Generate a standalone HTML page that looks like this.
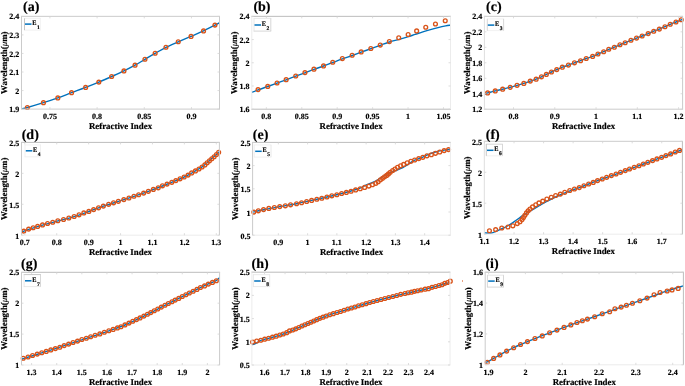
<!DOCTYPE html>
<html><head><meta charset="utf-8"><style>
html,body{margin:0;padding:0;background:#fff;width:685px;height:386px;overflow:hidden}
svg{display:block}
text{text-rendering:geometricPrecision}
text{font-family:"Liberation Serif",serif;font-weight:bold;fill:#000;stroke:#000;stroke-width:0.18px}
.tk{font-size:8px}
.lb{font-size:8.85px}
.pl{font-size:14px}
.lg{font-size:7px}
.ls{font-size:5.5px}
</style></head><body>
<svg width="685" height="386" viewBox="0 0 685 386" style="will-change:transform">
<rect width="685" height="386" fill="#fff"/>
<clipPath id="ca"><rect x="21.5" y="16.35" width="198.0" height="92.75"/></clipPath>
<path d="M21.45,108.80 C22.43,108.58 23.68,108.52 27.35,107.50 C31.02,106.48 38.37,104.30 43.45,102.70 C48.53,101.10 53.17,99.57 57.85,97.90 C62.53,96.23 66.92,94.45 71.55,92.70 C76.18,90.95 81.10,89.17 85.65,87.40 C90.20,85.63 94.52,83.92 98.85,82.10 C103.18,80.28 107.47,78.37 111.65,76.50 C115.83,74.63 120.05,72.78 123.95,70.90 C127.85,69.02 131.55,67.13 135.05,65.20 C138.55,63.27 141.60,61.28 144.95,59.30 C148.30,57.32 151.65,55.30 155.15,53.30 C158.65,51.30 162.10,49.22 165.95,47.30 C169.80,45.38 174.07,43.62 178.25,41.80 C182.43,39.98 186.83,38.22 191.05,36.40 C195.27,34.58 199.57,32.78 203.55,30.90 C207.53,29.02 212.20,26.52 214.95,25.10 C217.70,23.68 219.20,22.85 220.05,22.40" fill="none" stroke="#0072BD" stroke-width="1.4" stroke-linejoin="round" clip-path="url(#ca)"/>
<circle cx="27.35" cy="107.50" r="1.9" fill="none" stroke="#D95319" stroke-width="1.35"/>
<circle cx="43.45" cy="102.70" r="1.9" fill="none" stroke="#D95319" stroke-width="1.35"/>
<circle cx="57.85" cy="97.90" r="1.9" fill="none" stroke="#D95319" stroke-width="1.35"/>
<circle cx="71.55" cy="92.70" r="1.9" fill="none" stroke="#D95319" stroke-width="1.35"/>
<circle cx="85.65" cy="87.40" r="1.9" fill="none" stroke="#D95319" stroke-width="1.35"/>
<circle cx="98.85" cy="82.10" r="1.9" fill="none" stroke="#D95319" stroke-width="1.35"/>
<circle cx="111.65" cy="76.50" r="1.9" fill="none" stroke="#D95319" stroke-width="1.35"/>
<circle cx="123.95" cy="70.90" r="1.9" fill="none" stroke="#D95319" stroke-width="1.35"/>
<circle cx="135.05" cy="65.20" r="1.9" fill="none" stroke="#D95319" stroke-width="1.35"/>
<circle cx="144.95" cy="59.30" r="1.9" fill="none" stroke="#D95319" stroke-width="1.35"/>
<circle cx="155.15" cy="53.30" r="1.9" fill="none" stroke="#D95319" stroke-width="1.35"/>
<circle cx="165.95" cy="47.30" r="1.9" fill="none" stroke="#D95319" stroke-width="1.35"/>
<circle cx="178.25" cy="41.80" r="1.9" fill="none" stroke="#D95319" stroke-width="1.35"/>
<circle cx="191.05" cy="36.40" r="1.9" fill="none" stroke="#D95319" stroke-width="1.35"/>
<circle cx="203.55" cy="30.90" r="1.9" fill="none" stroke="#D95319" stroke-width="1.35"/>
<circle cx="214.95" cy="25.10" r="1.9" fill="none" stroke="#D95319" stroke-width="1.35"/>
<line x1="21.0" y1="16.35" x2="220.0" y2="16.35" stroke="#cbcbcb" stroke-width="1"/>
<line x1="21.0" y1="109.1" x2="220.0" y2="109.1" stroke="#cbcbcb" stroke-width="1"/>
<line x1="21.5" y1="16.35" x2="21.5" y2="109.1" stroke="#cbcbcb" stroke-width="1"/>
<line x1="219.5" y1="16.35" x2="219.5" y2="109.1" stroke="#cbcbcb" stroke-width="1"/>
<line x1="49.91" y1="109.1" x2="49.91" y2="107.1" stroke="#d4d4d4" stroke-width="0.8"/>
<line x1="49.91" y1="16.35" x2="49.91" y2="18.35" stroke="#d4d4d4" stroke-width="0.8"/>
<text x="49.91" y="119.00" class="tk" text-anchor="middle">0.75</text>
<line x1="97.09" y1="109.1" x2="97.09" y2="107.1" stroke="#d4d4d4" stroke-width="0.8"/>
<line x1="97.09" y1="16.35" x2="97.09" y2="18.35" stroke="#d4d4d4" stroke-width="0.8"/>
<text x="97.09" y="119.00" class="tk" text-anchor="middle">0.8</text>
<line x1="144.28" y1="109.1" x2="144.28" y2="107.1" stroke="#d4d4d4" stroke-width="0.8"/>
<line x1="144.28" y1="16.35" x2="144.28" y2="18.35" stroke="#d4d4d4" stroke-width="0.8"/>
<text x="144.28" y="119.00" class="tk" text-anchor="middle">0.85</text>
<line x1="191.47" y1="109.1" x2="191.47" y2="107.1" stroke="#d4d4d4" stroke-width="0.8"/>
<line x1="191.47" y1="16.35" x2="191.47" y2="18.35" stroke="#d4d4d4" stroke-width="0.8"/>
<text x="191.47" y="119.00" class="tk" text-anchor="middle">0.9</text>
<line x1="21.5" y1="109.10" x2="23.5" y2="109.10" stroke="#d4d4d4" stroke-width="0.8"/>
<line x1="219.5" y1="109.10" x2="217.5" y2="109.10" stroke="#d4d4d4" stroke-width="0.8"/>
<text x="19.30" y="112.20" class="tk" text-anchor="end">1.9</text>
<line x1="21.5" y1="90.55" x2="23.5" y2="90.55" stroke="#d4d4d4" stroke-width="0.8"/>
<line x1="219.5" y1="90.55" x2="217.5" y2="90.55" stroke="#d4d4d4" stroke-width="0.8"/>
<text x="19.30" y="93.65" class="tk" text-anchor="end">2</text>
<line x1="21.5" y1="72.00" x2="23.5" y2="72.00" stroke="#d4d4d4" stroke-width="0.8"/>
<line x1="219.5" y1="72.00" x2="217.5" y2="72.00" stroke="#d4d4d4" stroke-width="0.8"/>
<text x="19.30" y="75.10" class="tk" text-anchor="end">2.1</text>
<line x1="21.5" y1="53.45" x2="23.5" y2="53.45" stroke="#d4d4d4" stroke-width="0.8"/>
<line x1="219.5" y1="53.45" x2="217.5" y2="53.45" stroke="#d4d4d4" stroke-width="0.8"/>
<text x="19.30" y="56.55" class="tk" text-anchor="end">2.2</text>
<line x1="21.5" y1="34.90" x2="23.5" y2="34.90" stroke="#d4d4d4" stroke-width="0.8"/>
<line x1="219.5" y1="34.90" x2="217.5" y2="34.90" stroke="#d4d4d4" stroke-width="0.8"/>
<text x="19.30" y="38.00" class="tk" text-anchor="end">2.3</text>
<line x1="21.5" y1="16.35" x2="23.5" y2="16.35" stroke="#d4d4d4" stroke-width="0.8"/>
<line x1="219.5" y1="16.35" x2="217.5" y2="16.35" stroke="#d4d4d4" stroke-width="0.8"/>
<text x="19.30" y="19.45" class="tk" text-anchor="end">2.4</text>
<text x="120.50" y="129.00" class="lb" text-anchor="middle">Refractive Index</text>
<text transform="translate(7.10,62.72) rotate(-90)" class="lb" text-anchor="middle">Wavelength(<tspan font-style="italic" font-weight="normal" stroke-width="0.1">μ</tspan>m)</text>
<text x="23.00" y="11.30" class="pl">(a)</text>
<rect x="24.50" y="18.40" width="15.80" height="11.70" fill="#fff"/>
<line x1="24.10" y1="18.40" x2="40.70" y2="18.40" stroke="#eeeeee" stroke-width="0.8"/>
<line x1="24.10" y1="30.10" x2="40.70" y2="30.10" stroke="#eeeeee" stroke-width="0.8"/>
<line x1="24.50" y1="18.40" x2="24.50" y2="30.10" stroke="#b8b8b8" stroke-width="0.8"/>
<line x1="40.30" y1="18.40" x2="40.30" y2="30.10" stroke="#eeeeee" stroke-width="0.8"/>
<line x1="25.00" y1="24.10" x2="31.50" y2="24.10" stroke="#0072BD" stroke-width="1.5"/>
<text x="32.30" y="24.95" class="lg" textLength="4.2" lengthAdjust="spacingAndGlyphs">E</text>
<text x="37.00" y="28.80" class="ls">1</text>
<clipPath id="cb"><rect x="251.8" y="16.35" width="198.7" height="92.85"/></clipPath>
<path d="M251.95,92.40 C252.97,91.98 255.42,90.88 258.05,89.90 C260.68,88.92 264.58,87.63 267.75,86.50 C270.92,85.37 273.98,84.22 277.05,83.10 C280.12,81.98 283.03,80.95 286.15,79.80 C289.27,78.65 292.62,77.37 295.75,76.20 C298.88,75.03 301.92,73.93 304.95,72.80 C307.98,71.67 310.85,70.53 313.95,69.40 C317.05,68.27 320.42,67.15 323.55,66.00 C326.68,64.85 329.62,63.68 332.75,62.50 C335.88,61.32 339.12,60.07 342.35,58.90 C345.58,57.73 349.02,56.62 352.15,55.50 C355.28,54.38 358.03,53.33 361.15,52.20 C364.27,51.07 367.67,49.85 370.85,48.70 C374.03,47.55 377.17,46.42 380.25,45.30 C383.33,44.18 386.05,43.03 389.35,42.00 C392.65,40.97 397.00,39.95 400.05,39.10 C403.10,38.25 405.12,37.68 407.65,36.90 C410.18,36.12 412.72,35.23 415.25,34.40 C417.78,33.57 420.32,32.70 422.85,31.90 C425.38,31.10 427.92,30.32 430.45,29.60 C432.98,28.88 435.52,28.22 438.05,27.60 C440.58,26.98 443.57,26.32 445.65,25.90 C447.73,25.48 449.73,25.23 450.55,25.10" fill="none" stroke="#0072BD" stroke-width="1.4" stroke-linejoin="round" clip-path="url(#cb)"/>
<circle cx="258.05" cy="89.60" r="1.9" fill="none" stroke="#D95319" stroke-width="1.35"/>
<circle cx="267.75" cy="86.40" r="1.9" fill="none" stroke="#D95319" stroke-width="1.35"/>
<circle cx="277.05" cy="83.00" r="1.9" fill="none" stroke="#D95319" stroke-width="1.35"/>
<circle cx="286.15" cy="79.70" r="1.9" fill="none" stroke="#D95319" stroke-width="1.35"/>
<circle cx="295.75" cy="76.00" r="1.9" fill="none" stroke="#D95319" stroke-width="1.35"/>
<circle cx="304.95" cy="72.60" r="1.9" fill="none" stroke="#D95319" stroke-width="1.35"/>
<circle cx="313.95" cy="69.20" r="1.9" fill="none" stroke="#D95319" stroke-width="1.35"/>
<circle cx="323.55" cy="65.90" r="1.9" fill="none" stroke="#D95319" stroke-width="1.35"/>
<circle cx="332.75" cy="62.20" r="1.9" fill="none" stroke="#D95319" stroke-width="1.35"/>
<circle cx="342.35" cy="58.60" r="1.9" fill="none" stroke="#D95319" stroke-width="1.35"/>
<circle cx="352.15" cy="55.30" r="1.9" fill="none" stroke="#D95319" stroke-width="1.35"/>
<circle cx="361.15" cy="51.90" r="1.9" fill="none" stroke="#D95319" stroke-width="1.35"/>
<circle cx="370.85" cy="48.50" r="1.9" fill="none" stroke="#D95319" stroke-width="1.35"/>
<circle cx="380.25" cy="45.10" r="1.9" fill="none" stroke="#D95319" stroke-width="1.35"/>
<circle cx="389.35" cy="41.60" r="1.9" fill="none" stroke="#D95319" stroke-width="1.35"/>
<circle cx="398.75" cy="37.70" r="1.9" fill="none" stroke="#D95319" stroke-width="1.35"/>
<circle cx="408.15" cy="34.50" r="1.9" fill="none" stroke="#D95319" stroke-width="1.35"/>
<circle cx="416.65" cy="30.90" r="1.9" fill="none" stroke="#D95319" stroke-width="1.35"/>
<circle cx="425.75" cy="27.30" r="1.9" fill="none" stroke="#D95319" stroke-width="1.35"/>
<circle cx="435.45" cy="24.00" r="1.9" fill="none" stroke="#D95319" stroke-width="1.35"/>
<circle cx="445.25" cy="20.80" r="1.9" fill="none" stroke="#D95319" stroke-width="1.35"/>
<line x1="251.3" y1="16.35" x2="451.0" y2="16.35" stroke="#bcbcbc" stroke-width="1"/>
<line x1="251.3" y1="109.2" x2="451.0" y2="109.2" stroke="#bcbcbc" stroke-width="1"/>
<line x1="251.8" y1="16.35" x2="251.8" y2="109.2" stroke="#ececec" stroke-width="1"/>
<line x1="450.5" y1="16.35" x2="450.5" y2="109.2" stroke="#ececec" stroke-width="1"/>
<line x1="266.33" y1="109.2" x2="266.33" y2="107.2" stroke="#d4d4d4" stroke-width="0.8"/>
<line x1="266.33" y1="16.35" x2="266.33" y2="18.35" stroke="#d4d4d4" stroke-width="0.8"/>
<text x="266.33" y="119.10" class="tk" text-anchor="middle">0.8</text>
<line x1="301.76" y1="109.2" x2="301.76" y2="107.2" stroke="#d4d4d4" stroke-width="0.8"/>
<line x1="301.76" y1="16.35" x2="301.76" y2="18.35" stroke="#d4d4d4" stroke-width="0.8"/>
<text x="301.76" y="119.10" class="tk" text-anchor="middle">0.85</text>
<line x1="337.19" y1="109.2" x2="337.19" y2="107.2" stroke="#d4d4d4" stroke-width="0.8"/>
<line x1="337.19" y1="16.35" x2="337.19" y2="18.35" stroke="#d4d4d4" stroke-width="0.8"/>
<text x="337.19" y="119.10" class="tk" text-anchor="middle">0.9</text>
<line x1="372.62" y1="109.2" x2="372.62" y2="107.2" stroke="#d4d4d4" stroke-width="0.8"/>
<line x1="372.62" y1="16.35" x2="372.62" y2="18.35" stroke="#d4d4d4" stroke-width="0.8"/>
<text x="372.62" y="119.10" class="tk" text-anchor="middle">0.95</text>
<line x1="408.05" y1="109.2" x2="408.05" y2="107.2" stroke="#d4d4d4" stroke-width="0.8"/>
<line x1="408.05" y1="16.35" x2="408.05" y2="18.35" stroke="#d4d4d4" stroke-width="0.8"/>
<text x="408.05" y="119.10" class="tk" text-anchor="middle">1</text>
<line x1="443.48" y1="109.2" x2="443.48" y2="107.2" stroke="#d4d4d4" stroke-width="0.8"/>
<line x1="443.48" y1="16.35" x2="443.48" y2="18.35" stroke="#d4d4d4" stroke-width="0.8"/>
<text x="443.48" y="119.10" class="tk" text-anchor="middle">1.05</text>
<line x1="251.8" y1="109.20" x2="253.8" y2="109.20" stroke="#d4d4d4" stroke-width="0.8"/>
<line x1="450.5" y1="109.20" x2="448.5" y2="109.20" stroke="#d4d4d4" stroke-width="0.8"/>
<text x="249.60" y="112.30" class="tk" text-anchor="end">1.6</text>
<line x1="251.8" y1="85.99" x2="253.8" y2="85.99" stroke="#d4d4d4" stroke-width="0.8"/>
<line x1="450.5" y1="85.99" x2="448.5" y2="85.99" stroke="#d4d4d4" stroke-width="0.8"/>
<text x="249.60" y="89.09" class="tk" text-anchor="end">1.8</text>
<line x1="251.8" y1="62.78" x2="253.8" y2="62.78" stroke="#d4d4d4" stroke-width="0.8"/>
<line x1="450.5" y1="62.78" x2="448.5" y2="62.78" stroke="#d4d4d4" stroke-width="0.8"/>
<text x="249.60" y="65.88" class="tk" text-anchor="end">2</text>
<line x1="251.8" y1="39.56" x2="253.8" y2="39.56" stroke="#d4d4d4" stroke-width="0.8"/>
<line x1="450.5" y1="39.56" x2="448.5" y2="39.56" stroke="#d4d4d4" stroke-width="0.8"/>
<text x="249.60" y="42.66" class="tk" text-anchor="end">2.2</text>
<line x1="251.8" y1="16.35" x2="253.8" y2="16.35" stroke="#d4d4d4" stroke-width="0.8"/>
<line x1="450.5" y1="16.35" x2="448.5" y2="16.35" stroke="#d4d4d4" stroke-width="0.8"/>
<text x="249.60" y="19.45" class="tk" text-anchor="end">2.4</text>
<text x="351.15" y="129.10" class="lb" text-anchor="middle">Refractive Index</text>
<text transform="translate(237.40,62.78) rotate(-90)" class="lb" text-anchor="middle">Wavelength(<tspan font-style="italic" font-weight="normal" stroke-width="0.1">μ</tspan>m)</text>
<text x="253.40" y="11.30" class="pl">(b)</text>
<rect x="254.00" y="18.40" width="16.80" height="12.70" fill="#fff"/>
<line x1="253.60" y1="18.40" x2="271.20" y2="18.40" stroke="#e2e2e2" stroke-width="0.8"/>
<line x1="253.60" y1="31.10" x2="271.20" y2="31.10" stroke="#cdcdcd" stroke-width="0.8"/>
<line x1="254.00" y1="18.40" x2="254.00" y2="31.10" stroke="#e2e2e2" stroke-width="0.8"/>
<line x1="270.80" y1="18.40" x2="270.80" y2="31.10" stroke="#cdcdcd" stroke-width="0.8"/>
<line x1="254.50" y1="25.00" x2="261.00" y2="25.00" stroke="#0072BD" stroke-width="1.5"/>
<text x="261.80" y="25.85" class="lg" textLength="4.2" lengthAdjust="spacingAndGlyphs">E</text>
<text x="266.50" y="29.70" class="ls">2</text>
<clipPath id="cc"><rect x="484.4" y="16.35" width="198.20000000000005" height="92.85"/></clipPath>
<path d="M484.45,94.30 C484.98,94.07 485.85,93.47 487.65,92.90 C489.45,92.33 492.75,91.52 495.25,90.90 C497.75,90.28 500.17,89.80 502.65,89.20 C505.13,88.60 507.75,87.95 510.15,87.30 C512.55,86.65 514.77,85.95 517.05,85.30 C519.33,84.65 521.65,84.10 523.85,83.40 C526.05,82.70 528.20,81.80 530.25,81.10 C532.30,80.40 534.28,79.92 536.15,79.20 C538.02,78.48 539.75,77.60 541.45,76.80 C543.15,76.00 544.68,75.20 546.35,74.40 C548.02,73.60 549.72,72.80 551.45,72.00 C553.18,71.20 554.93,70.40 556.75,69.60 C558.57,68.80 560.40,67.95 562.35,67.20 C564.30,66.45 566.43,65.83 568.45,65.10 C570.47,64.37 572.43,63.53 574.45,62.80 C576.47,62.07 578.58,61.42 580.55,60.70 C582.52,59.98 584.23,59.22 586.25,58.50 C588.27,57.78 590.70,57.15 592.65,56.40 C594.60,55.65 596.12,54.78 597.95,54.00 C599.78,53.22 601.85,52.48 603.65,51.70 C605.45,50.92 606.97,50.05 608.75,49.30 C610.53,48.55 612.48,47.95 614.35,47.20 C616.22,46.45 618.15,45.55 619.95,44.80 C621.75,44.05 623.32,43.45 625.15,42.70 C626.98,41.95 629.05,41.07 630.95,40.30 C632.85,39.53 634.68,38.82 636.55,38.10 C638.42,37.38 640.22,36.75 642.15,36.00 C644.08,35.25 646.22,34.40 648.15,33.60 C650.08,32.80 651.88,31.95 653.75,31.20 C655.62,30.45 657.48,29.85 659.35,29.10 C661.22,28.35 663.13,27.50 664.95,26.70 C666.77,25.90 668.42,25.08 670.25,24.30 C672.08,23.52 674.12,22.75 675.95,22.00 C677.78,21.25 680.13,20.25 681.25,19.80 C682.37,19.35 682.42,19.38 682.65,19.30" fill="none" stroke="#0072BD" stroke-width="1.4" stroke-linejoin="round" clip-path="url(#cc)"/>
<circle cx="487.65" cy="92.90" r="1.9" fill="none" stroke="#D95319" stroke-width="1.35"/>
<circle cx="495.25" cy="90.90" r="1.9" fill="none" stroke="#D95319" stroke-width="1.35"/>
<circle cx="502.65" cy="89.20" r="1.9" fill="none" stroke="#D95319" stroke-width="1.35"/>
<circle cx="510.15" cy="87.30" r="1.9" fill="none" stroke="#D95319" stroke-width="1.35"/>
<circle cx="517.05" cy="85.30" r="1.9" fill="none" stroke="#D95319" stroke-width="1.35"/>
<circle cx="523.85" cy="83.40" r="1.9" fill="none" stroke="#D95319" stroke-width="1.35"/>
<circle cx="530.25" cy="81.10" r="1.9" fill="none" stroke="#D95319" stroke-width="1.35"/>
<circle cx="536.15" cy="79.20" r="1.9" fill="none" stroke="#D95319" stroke-width="1.35"/>
<circle cx="541.45" cy="76.80" r="1.9" fill="none" stroke="#D95319" stroke-width="1.35"/>
<circle cx="546.35" cy="74.40" r="1.9" fill="none" stroke="#D95319" stroke-width="1.35"/>
<circle cx="551.45" cy="72.00" r="1.9" fill="none" stroke="#D95319" stroke-width="1.35"/>
<circle cx="556.75" cy="69.60" r="1.9" fill="none" stroke="#D95319" stroke-width="1.35"/>
<circle cx="562.35" cy="67.20" r="1.9" fill="none" stroke="#D95319" stroke-width="1.35"/>
<circle cx="568.45" cy="65.10" r="1.9" fill="none" stroke="#D95319" stroke-width="1.35"/>
<circle cx="574.45" cy="62.80" r="1.9" fill="none" stroke="#D95319" stroke-width="1.35"/>
<circle cx="580.55" cy="60.70" r="1.9" fill="none" stroke="#D95319" stroke-width="1.35"/>
<circle cx="586.25" cy="58.50" r="1.9" fill="none" stroke="#D95319" stroke-width="1.35"/>
<circle cx="592.65" cy="56.40" r="1.9" fill="none" stroke="#D95319" stroke-width="1.35"/>
<circle cx="597.95" cy="54.00" r="1.9" fill="none" stroke="#D95319" stroke-width="1.35"/>
<circle cx="603.65" cy="51.70" r="1.9" fill="none" stroke="#D95319" stroke-width="1.35"/>
<circle cx="608.75" cy="49.30" r="1.9" fill="none" stroke="#D95319" stroke-width="1.35"/>
<circle cx="614.35" cy="47.20" r="1.9" fill="none" stroke="#D95319" stroke-width="1.35"/>
<circle cx="619.95" cy="44.80" r="1.9" fill="none" stroke="#D95319" stroke-width="1.35"/>
<circle cx="625.15" cy="42.70" r="1.9" fill="none" stroke="#D95319" stroke-width="1.35"/>
<circle cx="630.95" cy="40.30" r="1.9" fill="none" stroke="#D95319" stroke-width="1.35"/>
<circle cx="636.55" cy="38.10" r="1.9" fill="none" stroke="#D95319" stroke-width="1.35"/>
<circle cx="642.15" cy="36.00" r="1.9" fill="none" stroke="#D95319" stroke-width="1.35"/>
<circle cx="648.15" cy="33.60" r="1.9" fill="none" stroke="#D95319" stroke-width="1.35"/>
<circle cx="653.75" cy="31.20" r="1.9" fill="none" stroke="#D95319" stroke-width="1.35"/>
<circle cx="659.35" cy="29.10" r="1.9" fill="none" stroke="#D95319" stroke-width="1.35"/>
<circle cx="664.95" cy="26.70" r="1.9" fill="none" stroke="#D95319" stroke-width="1.35"/>
<circle cx="670.25" cy="24.30" r="1.9" fill="none" stroke="#D95319" stroke-width="1.35"/>
<circle cx="675.95" cy="22.00" r="1.9" fill="none" stroke="#D95319" stroke-width="1.35"/>
<circle cx="681.25" cy="19.80" r="1.9" fill="none" stroke="#D95319" stroke-width="1.35"/>
<line x1="483.9" y1="16.35" x2="683.1" y2="16.35" stroke="#cbcbcb" stroke-width="1"/>
<line x1="483.9" y1="109.2" x2="683.1" y2="109.2" stroke="#cbcbcb" stroke-width="1"/>
<line x1="484.4" y1="16.35" x2="484.4" y2="109.2" stroke="#dedede" stroke-width="1"/>
<line x1="682.6" y1="16.35" x2="682.6" y2="109.2" stroke="#cbcbcb" stroke-width="1"/>
<line x1="513.50" y1="109.2" x2="513.50" y2="107.2" stroke="#d4d4d4" stroke-width="0.8"/>
<line x1="513.50" y1="16.35" x2="513.50" y2="18.35" stroke="#d4d4d4" stroke-width="0.8"/>
<text x="513.50" y="119.10" class="tk" text-anchor="middle">0.8</text>
<line x1="554.77" y1="109.2" x2="554.77" y2="107.2" stroke="#d4d4d4" stroke-width="0.8"/>
<line x1="554.77" y1="16.35" x2="554.77" y2="18.35" stroke="#d4d4d4" stroke-width="0.8"/>
<text x="554.77" y="119.10" class="tk" text-anchor="middle">0.9</text>
<line x1="596.05" y1="109.2" x2="596.05" y2="107.2" stroke="#d4d4d4" stroke-width="0.8"/>
<line x1="596.05" y1="16.35" x2="596.05" y2="18.35" stroke="#d4d4d4" stroke-width="0.8"/>
<text x="596.05" y="119.10" class="tk" text-anchor="middle">1</text>
<line x1="637.32" y1="109.2" x2="637.32" y2="107.2" stroke="#d4d4d4" stroke-width="0.8"/>
<line x1="637.32" y1="16.35" x2="637.32" y2="18.35" stroke="#d4d4d4" stroke-width="0.8"/>
<text x="637.32" y="119.10" class="tk" text-anchor="middle">1.1</text>
<line x1="678.60" y1="109.2" x2="678.60" y2="107.2" stroke="#d4d4d4" stroke-width="0.8"/>
<line x1="678.60" y1="16.35" x2="678.60" y2="18.35" stroke="#d4d4d4" stroke-width="0.8"/>
<text x="678.60" y="119.10" class="tk" text-anchor="middle">1.2</text>
<line x1="484.4" y1="109.20" x2="486.4" y2="109.20" stroke="#d4d4d4" stroke-width="0.8"/>
<line x1="682.6" y1="109.20" x2="680.6" y2="109.20" stroke="#d4d4d4" stroke-width="0.8"/>
<text x="482.20" y="112.30" class="tk" text-anchor="end">1.2</text>
<line x1="484.4" y1="93.73" x2="486.4" y2="93.73" stroke="#d4d4d4" stroke-width="0.8"/>
<line x1="682.6" y1="93.73" x2="680.6" y2="93.73" stroke="#d4d4d4" stroke-width="0.8"/>
<text x="482.20" y="96.83" class="tk" text-anchor="end">1.4</text>
<line x1="484.4" y1="78.25" x2="486.4" y2="78.25" stroke="#d4d4d4" stroke-width="0.8"/>
<line x1="682.6" y1="78.25" x2="680.6" y2="78.25" stroke="#d4d4d4" stroke-width="0.8"/>
<text x="482.20" y="81.35" class="tk" text-anchor="end">1.6</text>
<line x1="484.4" y1="62.77" x2="486.4" y2="62.77" stroke="#d4d4d4" stroke-width="0.8"/>
<line x1="682.6" y1="62.77" x2="680.6" y2="62.77" stroke="#d4d4d4" stroke-width="0.8"/>
<text x="482.20" y="65.88" class="tk" text-anchor="end">1.8</text>
<line x1="484.4" y1="47.30" x2="486.4" y2="47.30" stroke="#d4d4d4" stroke-width="0.8"/>
<line x1="682.6" y1="47.30" x2="680.6" y2="47.30" stroke="#d4d4d4" stroke-width="0.8"/>
<text x="482.20" y="50.40" class="tk" text-anchor="end">2</text>
<line x1="484.4" y1="31.82" x2="486.4" y2="31.82" stroke="#d4d4d4" stroke-width="0.8"/>
<line x1="682.6" y1="31.82" x2="680.6" y2="31.82" stroke="#d4d4d4" stroke-width="0.8"/>
<text x="482.20" y="34.92" class="tk" text-anchor="end">2.2</text>
<line x1="484.4" y1="16.35" x2="486.4" y2="16.35" stroke="#d4d4d4" stroke-width="0.8"/>
<line x1="682.6" y1="16.35" x2="680.6" y2="16.35" stroke="#d4d4d4" stroke-width="0.8"/>
<text x="482.20" y="19.45" class="tk" text-anchor="end">2.4</text>
<text x="583.50" y="129.10" class="lb" text-anchor="middle">Refractive Index</text>
<text transform="translate(470.00,62.78) rotate(-90)" class="lb" text-anchor="middle">Wavelength(<tspan font-style="italic" font-weight="normal" stroke-width="0.1">μ</tspan>m)</text>
<text x="486.10" y="11.30" class="pl">(c)</text>
<rect x="487.30" y="18.90" width="16.30" height="11.70" fill="#fff"/>
<line x1="486.90" y1="18.90" x2="504.00" y2="18.90" stroke="#eeeeee" stroke-width="0.8"/>
<line x1="486.90" y1="30.60" x2="504.00" y2="30.60" stroke="#eeeeee" stroke-width="0.8"/>
<line x1="487.30" y1="18.90" x2="487.30" y2="30.60" stroke="#cdcdcd" stroke-width="0.8"/>
<line x1="503.60" y1="18.90" x2="503.60" y2="30.60" stroke="#cdcdcd" stroke-width="0.8"/>
<line x1="487.80" y1="25.10" x2="494.30" y2="25.10" stroke="#0072BD" stroke-width="1.5"/>
<text x="495.10" y="25.95" class="lg" textLength="4.2" lengthAdjust="spacingAndGlyphs">E</text>
<text x="499.80" y="29.80" class="ls">3</text>
<clipPath id="cd"><rect x="21.5" y="142.4" width="197.9" height="92.79999999999998"/></clipPath>
<path d="M21.55,232.10 C22.73,231.63 25.15,230.47 28.65,229.30 C32.15,228.13 37.68,226.50 42.55,225.10 C47.42,223.70 52.58,222.32 57.85,220.90 C63.12,219.48 68.98,218.17 74.15,216.60 C79.32,215.03 83.98,213.23 88.85,211.50 C93.72,209.77 98.43,207.88 103.35,206.20 C108.27,204.52 113.25,203.05 118.35,201.40 C123.45,199.75 128.95,197.98 133.95,196.30 C138.95,194.62 143.60,193.02 148.35,191.30 C153.10,189.58 157.87,187.78 162.45,186.00 C167.03,184.22 171.58,182.42 175.85,180.60 C180.12,178.78 184.78,176.73 188.05,175.10 C191.32,173.47 193.12,172.18 195.45,170.80 C197.78,169.42 200.10,168.15 202.05,166.80 C204.00,165.45 205.53,164.07 207.15,162.70 C208.77,161.33 210.20,159.98 211.75,158.60 C213.30,157.22 215.10,155.63 216.45,154.40 C217.80,153.17 219.28,151.73 219.85,151.20" fill="none" stroke="#0072BD" stroke-width="1.4" stroke-linejoin="round" clip-path="url(#cd)"/>
<circle cx="23.85" cy="231.10" r="1.9" fill="none" stroke="#D95319" stroke-width="1.35"/>
<circle cx="28.65" cy="229.10" r="1.9" fill="none" stroke="#D95319" stroke-width="1.35"/>
<circle cx="33.15" cy="227.70" r="1.9" fill="none" stroke="#D95319" stroke-width="1.35"/>
<circle cx="37.65" cy="226.40" r="1.9" fill="none" stroke="#D95319" stroke-width="1.35"/>
<circle cx="42.55" cy="224.90" r="1.9" fill="none" stroke="#D95319" stroke-width="1.35"/>
<circle cx="47.55" cy="223.50" r="1.9" fill="none" stroke="#D95319" stroke-width="1.35"/>
<circle cx="52.75" cy="222.20" r="1.9" fill="none" stroke="#D95319" stroke-width="1.35"/>
<circle cx="57.85" cy="220.70" r="1.9" fill="none" stroke="#D95319" stroke-width="1.35"/>
<circle cx="63.55" cy="219.50" r="1.9" fill="none" stroke="#D95319" stroke-width="1.35"/>
<circle cx="68.85" cy="218.00" r="1.9" fill="none" stroke="#D95319" stroke-width="1.35"/>
<circle cx="74.15" cy="216.50" r="1.9" fill="none" stroke="#D95319" stroke-width="1.35"/>
<circle cx="79.05" cy="214.80" r="1.9" fill="none" stroke="#D95319" stroke-width="1.35"/>
<circle cx="83.85" cy="212.90" r="1.9" fill="none" stroke="#D95319" stroke-width="1.35"/>
<circle cx="88.85" cy="211.40" r="1.9" fill="none" stroke="#D95319" stroke-width="1.35"/>
<circle cx="93.65" cy="209.60" r="1.9" fill="none" stroke="#D95319" stroke-width="1.35"/>
<circle cx="98.55" cy="207.80" r="1.9" fill="none" stroke="#D95319" stroke-width="1.35"/>
<circle cx="103.35" cy="206.10" r="1.9" fill="none" stroke="#D95319" stroke-width="1.35"/>
<circle cx="108.65" cy="204.30" r="1.9" fill="none" stroke="#D95319" stroke-width="1.35"/>
<circle cx="113.55" cy="202.80" r="1.9" fill="none" stroke="#D95319" stroke-width="1.35"/>
<circle cx="118.35" cy="201.30" r="1.9" fill="none" stroke="#D95319" stroke-width="1.35"/>
<circle cx="123.85" cy="199.60" r="1.9" fill="none" stroke="#D95319" stroke-width="1.35"/>
<circle cx="128.95" cy="198.00" r="1.9" fill="none" stroke="#D95319" stroke-width="1.35"/>
<circle cx="133.95" cy="196.20" r="1.9" fill="none" stroke="#D95319" stroke-width="1.35"/>
<circle cx="138.65" cy="194.70" r="1.9" fill="none" stroke="#D95319" stroke-width="1.35"/>
<circle cx="143.65" cy="193.10" r="1.9" fill="none" stroke="#D95319" stroke-width="1.35"/>
<circle cx="148.35" cy="191.30" r="1.9" fill="none" stroke="#D95319" stroke-width="1.35"/>
<circle cx="153.35" cy="189.40" r="1.9" fill="none" stroke="#D95319" stroke-width="1.35"/>
<circle cx="158.25" cy="187.80" r="1.9" fill="none" stroke="#D95319" stroke-width="1.35"/>
<circle cx="162.45" cy="185.80" r="1.9" fill="none" stroke="#D95319" stroke-width="1.35"/>
<circle cx="167.05" cy="184.10" r="1.9" fill="none" stroke="#D95319" stroke-width="1.35"/>
<circle cx="171.85" cy="182.30" r="1.9" fill="none" stroke="#D95319" stroke-width="1.35"/>
<circle cx="175.85" cy="180.60" r="1.9" fill="none" stroke="#D95319" stroke-width="1.35"/>
<circle cx="180.05" cy="178.80" r="1.9" fill="none" stroke="#D95319" stroke-width="1.35"/>
<circle cx="184.15" cy="177.00" r="1.9" fill="none" stroke="#D95319" stroke-width="1.35"/>
<circle cx="188.05" cy="175.10" r="1.9" fill="none" stroke="#D95319" stroke-width="1.35"/>
<circle cx="191.65" cy="172.90" r="1.9" fill="none" stroke="#D95319" stroke-width="1.35"/>
<circle cx="195.45" cy="170.90" r="1.9" fill="none" stroke="#D95319" stroke-width="1.35"/>
<circle cx="198.95" cy="169.00" r="1.9" fill="none" stroke="#D95319" stroke-width="1.35"/>
<circle cx="202.05" cy="167.00" r="1.9" fill="none" stroke="#D95319" stroke-width="1.35"/>
<circle cx="204.85" cy="164.90" r="1.9" fill="none" stroke="#D95319" stroke-width="1.35"/>
<circle cx="207.15" cy="162.80" r="1.9" fill="none" stroke="#D95319" stroke-width="1.35"/>
<circle cx="209.45" cy="160.80" r="1.9" fill="none" stroke="#D95319" stroke-width="1.35"/>
<circle cx="211.75" cy="158.70" r="1.9" fill="none" stroke="#D95319" stroke-width="1.35"/>
<circle cx="214.15" cy="156.70" r="1.9" fill="none" stroke="#D95319" stroke-width="1.35"/>
<circle cx="216.45" cy="154.50" r="1.9" fill="none" stroke="#D95319" stroke-width="1.35"/>
<circle cx="218.65" cy="152.30" r="1.9" fill="none" stroke="#D95319" stroke-width="1.35"/>
<line x1="21.0" y1="142.4" x2="219.9" y2="142.4" stroke="#bcbcbc" stroke-width="1"/>
<line x1="21.0" y1="235.2" x2="219.9" y2="235.2" stroke="#ececec" stroke-width="1"/>
<line x1="21.5" y1="142.4" x2="21.5" y2="235.2" stroke="#cbcbcb" stroke-width="1"/>
<line x1="219.4" y1="142.4" x2="219.4" y2="235.2" stroke="#cbcbcb" stroke-width="1"/>
<line x1="24.79" y1="235.2" x2="24.79" y2="233.2" stroke="#d4d4d4" stroke-width="0.8"/>
<line x1="24.79" y1="142.4" x2="24.79" y2="144.4" stroke="#d4d4d4" stroke-width="0.8"/>
<text x="24.79" y="245.10" class="tk" text-anchor="middle">0.7</text>
<line x1="56.71" y1="235.2" x2="56.71" y2="233.2" stroke="#d4d4d4" stroke-width="0.8"/>
<line x1="56.71" y1="142.4" x2="56.71" y2="144.4" stroke="#d4d4d4" stroke-width="0.8"/>
<text x="56.71" y="245.10" class="tk" text-anchor="middle">0.8</text>
<line x1="88.63" y1="235.2" x2="88.63" y2="233.2" stroke="#d4d4d4" stroke-width="0.8"/>
<line x1="88.63" y1="142.4" x2="88.63" y2="144.4" stroke="#d4d4d4" stroke-width="0.8"/>
<text x="88.63" y="245.10" class="tk" text-anchor="middle">0.9</text>
<line x1="120.55" y1="235.2" x2="120.55" y2="233.2" stroke="#d4d4d4" stroke-width="0.8"/>
<line x1="120.55" y1="142.4" x2="120.55" y2="144.4" stroke="#d4d4d4" stroke-width="0.8"/>
<text x="120.55" y="245.10" class="tk" text-anchor="middle">1</text>
<line x1="152.47" y1="235.2" x2="152.47" y2="233.2" stroke="#d4d4d4" stroke-width="0.8"/>
<line x1="152.47" y1="142.4" x2="152.47" y2="144.4" stroke="#d4d4d4" stroke-width="0.8"/>
<text x="152.47" y="245.10" class="tk" text-anchor="middle">1.1</text>
<line x1="184.38" y1="235.2" x2="184.38" y2="233.2" stroke="#d4d4d4" stroke-width="0.8"/>
<line x1="184.38" y1="142.4" x2="184.38" y2="144.4" stroke="#d4d4d4" stroke-width="0.8"/>
<text x="184.38" y="245.10" class="tk" text-anchor="middle">1.2</text>
<line x1="216.30" y1="235.2" x2="216.30" y2="233.2" stroke="#d4d4d4" stroke-width="0.8"/>
<line x1="216.30" y1="142.4" x2="216.30" y2="144.4" stroke="#d4d4d4" stroke-width="0.8"/>
<text x="216.30" y="245.10" class="tk" text-anchor="middle">1.3</text>
<line x1="21.5" y1="235.20" x2="23.5" y2="235.20" stroke="#d4d4d4" stroke-width="0.8"/>
<line x1="219.4" y1="235.20" x2="217.4" y2="235.20" stroke="#d4d4d4" stroke-width="0.8"/>
<text x="19.30" y="238.70" class="tk" text-anchor="end">1</text>
<line x1="21.5" y1="204.27" x2="23.5" y2="204.27" stroke="#d4d4d4" stroke-width="0.8"/>
<line x1="219.4" y1="204.27" x2="217.4" y2="204.27" stroke="#d4d4d4" stroke-width="0.8"/>
<text x="19.30" y="207.77" class="tk" text-anchor="end">1.5</text>
<line x1="21.5" y1="173.33" x2="23.5" y2="173.33" stroke="#d4d4d4" stroke-width="0.8"/>
<line x1="219.4" y1="173.33" x2="217.4" y2="173.33" stroke="#d4d4d4" stroke-width="0.8"/>
<text x="19.30" y="176.83" class="tk" text-anchor="end">2</text>
<line x1="21.5" y1="142.40" x2="23.5" y2="142.40" stroke="#d4d4d4" stroke-width="0.8"/>
<line x1="219.4" y1="142.40" x2="217.4" y2="142.40" stroke="#d4d4d4" stroke-width="0.8"/>
<text x="19.30" y="145.90" class="tk" text-anchor="end">2.5</text>
<text x="120.45" y="255.10" class="lb" text-anchor="middle">Refractive Index</text>
<text transform="translate(7.10,188.80) rotate(-90)" class="lb" text-anchor="middle">Wavelength(<tspan font-style="italic" font-weight="normal" stroke-width="0.1">μ</tspan>m)</text>
<text x="21.70" y="139.20" class="pl">(d)</text>
<rect x="25.00" y="144.90" width="15.50" height="11.90" fill="#fff"/>
<line x1="24.60" y1="144.90" x2="40.90" y2="144.90" stroke="#eeeeee" stroke-width="0.8"/>
<line x1="24.60" y1="156.80" x2="40.90" y2="156.80" stroke="#eeeeee" stroke-width="0.8"/>
<line x1="25.00" y1="144.90" x2="25.00" y2="156.80" stroke="#eeeeee" stroke-width="0.8"/>
<line x1="40.50" y1="144.90" x2="40.50" y2="156.80" stroke="#eeeeee" stroke-width="0.8"/>
<line x1="25.80" y1="150.80" x2="32.30" y2="150.80" stroke="#0072BD" stroke-width="1.5"/>
<text x="33.10" y="151.65" class="lg" textLength="4.2" lengthAdjust="spacingAndGlyphs">E</text>
<text x="37.80" y="155.50" class="ls">4</text>
<clipPath id="ce"><rect x="252.6" y="142.4" width="197.79999999999998" height="92.79999999999998"/></clipPath>
<path d="M252.35,212.30 C254.22,211.87 258.98,210.65 263.55,209.70 C268.12,208.75 274.25,207.60 279.75,206.60 C285.25,205.60 291.23,204.73 296.55,203.70 C301.87,202.67 306.58,201.52 311.65,200.40 C316.72,199.28 321.95,198.15 326.95,197.00 C331.95,195.85 337.63,194.50 341.65,193.50 C345.67,192.50 348.72,191.67 351.05,191.00 C353.38,190.33 353.85,190.12 355.65,189.50 C357.45,188.88 360.13,188.03 361.85,187.30 C363.57,186.57 364.67,185.72 365.95,185.10 C367.23,184.48 368.33,184.10 369.55,183.60 C370.77,183.10 372.03,182.65 373.25,182.10 C374.47,181.55 375.63,180.98 376.85,180.30 C378.07,179.62 379.27,178.80 380.55,178.00 C381.83,177.20 383.22,176.28 384.55,175.50 C385.88,174.72 387.12,173.97 388.55,173.30 C389.98,172.63 391.72,172.05 393.15,171.50 C394.58,170.95 395.53,170.67 397.15,170.00 C398.77,169.33 401.30,168.25 402.85,167.50 C404.40,166.75 405.17,166.32 406.45,165.50 C407.73,164.68 409.18,163.48 410.55,162.60 C411.92,161.72 413.28,160.87 414.65,160.20 C416.02,159.53 417.38,159.12 418.75,158.60 C420.12,158.08 421.48,157.67 422.85,157.10 C424.22,156.53 425.53,155.82 426.95,155.20 C428.37,154.58 429.93,153.93 431.35,153.40 C432.77,152.87 434.05,152.42 435.45,152.00 C436.85,151.58 438.30,151.22 439.75,150.90 C441.20,150.58 442.68,150.33 444.15,150.10 C445.62,149.87 447.50,149.65 448.55,149.50 C449.60,149.35 450.13,149.25 450.45,149.20" fill="none" stroke="#0072BD" stroke-width="1.4" stroke-linejoin="round" clip-path="url(#ce)"/>
<circle cx="253.85" cy="212.10" r="1.9" fill="none" stroke="#D95319" stroke-width="1.35"/>
<circle cx="258.35" cy="210.80" r="1.9" fill="none" stroke="#D95319" stroke-width="1.35"/>
<circle cx="263.55" cy="209.60" r="1.9" fill="none" stroke="#D95319" stroke-width="1.35"/>
<circle cx="268.85" cy="208.40" r="1.9" fill="none" stroke="#D95319" stroke-width="1.35"/>
<circle cx="274.35" cy="207.50" r="1.9" fill="none" stroke="#D95319" stroke-width="1.35"/>
<circle cx="279.75" cy="206.60" r="1.9" fill="none" stroke="#D95319" stroke-width="1.35"/>
<circle cx="285.35" cy="205.80" r="1.9" fill="none" stroke="#D95319" stroke-width="1.35"/>
<circle cx="290.55" cy="204.80" r="1.9" fill="none" stroke="#D95319" stroke-width="1.35"/>
<circle cx="296.55" cy="203.70" r="1.9" fill="none" stroke="#D95319" stroke-width="1.35"/>
<circle cx="301.55" cy="202.70" r="1.9" fill="none" stroke="#D95319" stroke-width="1.35"/>
<circle cx="306.65" cy="201.50" r="1.9" fill="none" stroke="#D95319" stroke-width="1.35"/>
<circle cx="311.65" cy="200.40" r="1.9" fill="none" stroke="#D95319" stroke-width="1.35"/>
<circle cx="316.85" cy="199.20" r="1.9" fill="none" stroke="#D95319" stroke-width="1.35"/>
<circle cx="321.85" cy="198.20" r="1.9" fill="none" stroke="#D95319" stroke-width="1.35"/>
<circle cx="326.95" cy="197.00" r="1.9" fill="none" stroke="#D95319" stroke-width="1.35"/>
<circle cx="331.85" cy="195.80" r="1.9" fill="none" stroke="#D95319" stroke-width="1.35"/>
<circle cx="336.85" cy="194.70" r="1.9" fill="none" stroke="#D95319" stroke-width="1.35"/>
<circle cx="341.65" cy="193.50" r="1.9" fill="none" stroke="#D95319" stroke-width="1.35"/>
<circle cx="346.35" cy="192.40" r="1.9" fill="none" stroke="#D95319" stroke-width="1.35"/>
<circle cx="351.05" cy="191.20" r="1.9" fill="none" stroke="#D95319" stroke-width="1.35"/>
<circle cx="355.65" cy="189.90" r="1.9" fill="none" stroke="#D95319" stroke-width="1.35"/>
<circle cx="360.25" cy="188.70" r="1.9" fill="none" stroke="#D95319" stroke-width="1.35"/>
<circle cx="364.65" cy="187.40" r="1.9" fill="none" stroke="#D95319" stroke-width="1.35"/>
<circle cx="368.85" cy="186.10" r="1.9" fill="none" stroke="#D95319" stroke-width="1.35"/>
<circle cx="372.45" cy="184.70" r="1.9" fill="none" stroke="#D95319" stroke-width="1.35"/>
<circle cx="375.85" cy="183.30" r="1.9" fill="none" stroke="#D95319" stroke-width="1.35"/>
<circle cx="378.15" cy="181.70" r="1.9" fill="none" stroke="#D95319" stroke-width="1.35"/>
<circle cx="380.45" cy="179.80" r="1.9" fill="none" stroke="#D95319" stroke-width="1.35"/>
<circle cx="382.55" cy="178.30" r="1.9" fill="none" stroke="#D95319" stroke-width="1.35"/>
<circle cx="384.55" cy="176.70" r="1.9" fill="none" stroke="#D95319" stroke-width="1.35"/>
<circle cx="386.65" cy="175.40" r="1.9" fill="none" stroke="#D95319" stroke-width="1.35"/>
<circle cx="388.45" cy="173.90" r="1.9" fill="none" stroke="#D95319" stroke-width="1.35"/>
<circle cx="390.25" cy="172.30" r="1.9" fill="none" stroke="#D95319" stroke-width="1.35"/>
<circle cx="392.65" cy="170.50" r="1.9" fill="none" stroke="#D95319" stroke-width="1.35"/>
<circle cx="394.95" cy="169.00" r="1.9" fill="none" stroke="#D95319" stroke-width="1.35"/>
<circle cx="397.55" cy="167.20" r="1.9" fill="none" stroke="#D95319" stroke-width="1.35"/>
<circle cx="400.55" cy="165.80" r="1.9" fill="none" stroke="#D95319" stroke-width="1.35"/>
<circle cx="403.65" cy="164.40" r="1.9" fill="none" stroke="#D95319" stroke-width="1.35"/>
<circle cx="407.25" cy="162.80" r="1.9" fill="none" stroke="#D95319" stroke-width="1.35"/>
<circle cx="410.85" cy="161.30" r="1.9" fill="none" stroke="#D95319" stroke-width="1.35"/>
<circle cx="414.65" cy="160.00" r="1.9" fill="none" stroke="#D95319" stroke-width="1.35"/>
<circle cx="418.75" cy="158.60" r="1.9" fill="none" stroke="#D95319" stroke-width="1.35"/>
<circle cx="422.85" cy="157.30" r="1.9" fill="none" stroke="#D95319" stroke-width="1.35"/>
<circle cx="426.95" cy="155.80" r="1.9" fill="none" stroke="#D95319" stroke-width="1.35"/>
<circle cx="431.35" cy="154.70" r="1.9" fill="none" stroke="#D95319" stroke-width="1.35"/>
<circle cx="435.45" cy="153.30" r="1.9" fill="none" stroke="#D95319" stroke-width="1.35"/>
<circle cx="439.75" cy="152.00" r="1.9" fill="none" stroke="#D95319" stroke-width="1.35"/>
<circle cx="444.15" cy="150.60" r="1.9" fill="none" stroke="#D95319" stroke-width="1.35"/>
<circle cx="448.55" cy="149.60" r="1.9" fill="none" stroke="#D95319" stroke-width="1.35"/>
<line x1="252.1" y1="142.4" x2="450.9" y2="142.4" stroke="#bcbcbc" stroke-width="1"/>
<line x1="252.1" y1="235.2" x2="450.9" y2="235.2" stroke="#ececec" stroke-width="1"/>
<line x1="252.6" y1="142.4" x2="252.6" y2="235.2" stroke="#cbcbcb" stroke-width="1"/>
<line x1="450.4" y1="142.4" x2="450.4" y2="235.2" stroke="#ececec" stroke-width="1"/>
<line x1="278.35" y1="235.2" x2="278.35" y2="233.2" stroke="#d4d4d4" stroke-width="0.8"/>
<line x1="278.35" y1="142.4" x2="278.35" y2="144.4" stroke="#d4d4d4" stroke-width="0.8"/>
<text x="278.35" y="245.10" class="tk" text-anchor="middle">0.9</text>
<line x1="307.61" y1="235.2" x2="307.61" y2="233.2" stroke="#d4d4d4" stroke-width="0.8"/>
<line x1="307.61" y1="142.4" x2="307.61" y2="144.4" stroke="#d4d4d4" stroke-width="0.8"/>
<text x="307.61" y="245.10" class="tk" text-anchor="middle">1</text>
<line x1="336.87" y1="235.2" x2="336.87" y2="233.2" stroke="#d4d4d4" stroke-width="0.8"/>
<line x1="336.87" y1="142.4" x2="336.87" y2="144.4" stroke="#d4d4d4" stroke-width="0.8"/>
<text x="336.87" y="245.10" class="tk" text-anchor="middle">1.1</text>
<line x1="366.13" y1="235.2" x2="366.13" y2="233.2" stroke="#d4d4d4" stroke-width="0.8"/>
<line x1="366.13" y1="142.4" x2="366.13" y2="144.4" stroke="#d4d4d4" stroke-width="0.8"/>
<text x="366.13" y="245.10" class="tk" text-anchor="middle">1.2</text>
<line x1="395.39" y1="235.2" x2="395.39" y2="233.2" stroke="#d4d4d4" stroke-width="0.8"/>
<line x1="395.39" y1="142.4" x2="395.39" y2="144.4" stroke="#d4d4d4" stroke-width="0.8"/>
<text x="395.39" y="245.10" class="tk" text-anchor="middle">1.3</text>
<line x1="424.65" y1="235.2" x2="424.65" y2="233.2" stroke="#d4d4d4" stroke-width="0.8"/>
<line x1="424.65" y1="142.4" x2="424.65" y2="144.4" stroke="#d4d4d4" stroke-width="0.8"/>
<text x="424.65" y="245.10" class="tk" text-anchor="middle">1.4</text>
<line x1="252.6" y1="235.20" x2="254.6" y2="235.20" stroke="#d4d4d4" stroke-width="0.8"/>
<line x1="450.4" y1="235.20" x2="448.4" y2="235.20" stroke="#d4d4d4" stroke-width="0.8"/>
<text x="250.40" y="238.70" class="tk" text-anchor="end">0.5</text>
<line x1="252.6" y1="212.00" x2="254.6" y2="212.00" stroke="#d4d4d4" stroke-width="0.8"/>
<line x1="450.4" y1="212.00" x2="448.4" y2="212.00" stroke="#d4d4d4" stroke-width="0.8"/>
<text x="250.40" y="215.50" class="tk" text-anchor="end">1</text>
<line x1="252.6" y1="188.80" x2="254.6" y2="188.80" stroke="#d4d4d4" stroke-width="0.8"/>
<line x1="450.4" y1="188.80" x2="448.4" y2="188.80" stroke="#d4d4d4" stroke-width="0.8"/>
<text x="250.40" y="192.30" class="tk" text-anchor="end">1.5</text>
<line x1="252.6" y1="165.60" x2="254.6" y2="165.60" stroke="#d4d4d4" stroke-width="0.8"/>
<line x1="450.4" y1="165.60" x2="448.4" y2="165.60" stroke="#d4d4d4" stroke-width="0.8"/>
<text x="250.40" y="169.10" class="tk" text-anchor="end">2</text>
<line x1="252.6" y1="142.40" x2="254.6" y2="142.40" stroke="#d4d4d4" stroke-width="0.8"/>
<line x1="450.4" y1="142.40" x2="448.4" y2="142.40" stroke="#d4d4d4" stroke-width="0.8"/>
<text x="250.40" y="145.90" class="tk" text-anchor="end">2.5</text>
<text x="351.50" y="255.10" class="lb" text-anchor="middle">Refractive Index</text>
<text transform="translate(238.20,188.80) rotate(-90)" class="lb" text-anchor="middle">Wavelength(<tspan font-style="italic" font-weight="normal" stroke-width="0.1">μ</tspan>m)</text>
<text x="252.80" y="139.20" class="pl">(e)</text>
<rect x="254.40" y="144.90" width="16.60" height="12.20" fill="#fff"/>
<line x1="254.00" y1="144.90" x2="271.40" y2="144.90" stroke="#eeeeee" stroke-width="0.8"/>
<line x1="254.00" y1="157.10" x2="271.40" y2="157.10" stroke="#eeeeee" stroke-width="0.8"/>
<line x1="254.40" y1="144.90" x2="254.40" y2="157.10" stroke="#eeeeee" stroke-width="0.8"/>
<line x1="271.00" y1="144.90" x2="271.00" y2="157.10" stroke="#e2e2e2" stroke-width="0.8"/>
<line x1="255.20" y1="151.30" x2="261.70" y2="151.30" stroke="#0072BD" stroke-width="1.5"/>
<text x="262.50" y="152.15" class="lg" textLength="4.2" lengthAdjust="spacingAndGlyphs">E</text>
<text x="267.20" y="156.00" class="ls">5</text>
<clipPath id="cf"><rect x="484.3" y="141.3" width="198.09999999999997" height="92.89999999999998"/></clipPath>
<path d="M484.35,232.80 C484.80,232.84 485.97,233.02 487.05,233.05 C488.13,233.08 489.68,233.14 490.85,233.00 C492.02,232.86 493.08,232.50 494.05,232.20 C495.02,231.90 495.25,231.83 496.65,231.20 C498.05,230.57 500.50,229.35 502.45,228.40 C504.40,227.45 506.40,226.62 508.35,225.50 C510.30,224.38 512.12,223.10 514.15,221.70 C516.18,220.30 518.82,218.33 520.55,217.10 C522.28,215.87 523.20,215.17 524.55,214.30 C525.90,213.43 527.37,212.65 528.65,211.90 C529.93,211.15 530.88,210.60 532.25,209.80 C533.62,209.00 535.33,208.00 536.85,207.10 C538.37,206.20 539.85,205.27 541.35,204.40 C542.85,203.53 544.00,202.88 545.85,201.90 C547.70,200.92 549.88,199.73 552.45,198.50 C555.02,197.27 558.32,195.78 561.25,194.50 C564.18,193.22 567.05,191.93 570.05,190.80 C573.05,189.67 574.67,189.38 579.25,187.70 C583.83,186.02 591.42,182.97 597.55,180.70 C603.68,178.43 609.93,176.32 616.05,174.10 C622.17,171.88 628.17,169.63 634.25,167.40 C640.33,165.17 646.48,162.93 652.55,160.70 C658.62,158.47 665.67,155.85 670.65,154.00 C675.63,152.15 680.48,150.33 682.45,149.60" fill="none" stroke="#0072BD" stroke-width="1.4" stroke-linejoin="round" clip-path="url(#cf)"/>
<circle cx="489.45" cy="230.70" r="1.9" fill="none" stroke="#D95319" stroke-width="1.35"/>
<circle cx="495.65" cy="229.60" r="1.9" fill="none" stroke="#D95319" stroke-width="1.35"/>
<circle cx="501.75" cy="228.00" r="1.9" fill="none" stroke="#D95319" stroke-width="1.35"/>
<circle cx="507.95" cy="227.00" r="1.9" fill="none" stroke="#D95319" stroke-width="1.35"/>
<circle cx="512.85" cy="225.80" r="1.9" fill="none" stroke="#D95319" stroke-width="1.35"/>
<circle cx="517.25" cy="223.60" r="1.9" fill="none" stroke="#D95319" stroke-width="1.35"/>
<circle cx="519.95" cy="221.70" r="1.9" fill="none" stroke="#D95319" stroke-width="1.35"/>
<circle cx="522.05" cy="219.60" r="1.9" fill="none" stroke="#D95319" stroke-width="1.35"/>
<circle cx="523.45" cy="217.50" r="1.9" fill="none" stroke="#D95319" stroke-width="1.35"/>
<circle cx="524.85" cy="215.20" r="1.9" fill="none" stroke="#D95319" stroke-width="1.35"/>
<circle cx="526.45" cy="212.90" r="1.9" fill="none" stroke="#D95319" stroke-width="1.35"/>
<circle cx="528.15" cy="210.80" r="1.9" fill="none" stroke="#D95319" stroke-width="1.35"/>
<circle cx="529.95" cy="209.00" r="1.9" fill="none" stroke="#D95319" stroke-width="1.35"/>
<circle cx="532.55" cy="206.90" r="1.9" fill="none" stroke="#D95319" stroke-width="1.35"/>
<circle cx="535.75" cy="204.80" r="1.9" fill="none" stroke="#D95319" stroke-width="1.35"/>
<circle cx="538.95" cy="202.90" r="1.9" fill="none" stroke="#D95319" stroke-width="1.35"/>
<circle cx="542.75" cy="201.10" r="1.9" fill="none" stroke="#D95319" stroke-width="1.35"/>
<circle cx="546.85" cy="199.00" r="1.9" fill="none" stroke="#D95319" stroke-width="1.35"/>
<circle cx="551.25" cy="197.20" r="1.9" fill="none" stroke="#D95319" stroke-width="1.35"/>
<circle cx="555.65" cy="195.50" r="1.9" fill="none" stroke="#D95319" stroke-width="1.35"/>
<circle cx="560.35" cy="194.10" r="1.9" fill="none" stroke="#D95319" stroke-width="1.35"/>
<circle cx="564.75" cy="192.30" r="1.9" fill="none" stroke="#D95319" stroke-width="1.35"/>
<circle cx="569.75" cy="190.50" r="1.9" fill="none" stroke="#D95319" stroke-width="1.35"/>
<circle cx="574.45" cy="189.00" r="1.9" fill="none" stroke="#D95319" stroke-width="1.35"/>
<circle cx="579.25" cy="187.60" r="1.9" fill="none" stroke="#D95319" stroke-width="1.35"/>
<circle cx="583.95" cy="185.70" r="1.9" fill="none" stroke="#D95319" stroke-width="1.35"/>
<circle cx="588.65" cy="184.00" r="1.9" fill="none" stroke="#D95319" stroke-width="1.35"/>
<circle cx="593.25" cy="182.40" r="1.9" fill="none" stroke="#D95319" stroke-width="1.35"/>
<circle cx="597.55" cy="180.60" r="1.9" fill="none" stroke="#D95319" stroke-width="1.35"/>
<circle cx="602.25" cy="179.00" r="1.9" fill="none" stroke="#D95319" stroke-width="1.35"/>
<circle cx="606.65" cy="177.30" r="1.9" fill="none" stroke="#D95319" stroke-width="1.35"/>
<circle cx="611.35" cy="175.60" r="1.9" fill="none" stroke="#D95319" stroke-width="1.35"/>
<circle cx="616.05" cy="174.00" r="1.9" fill="none" stroke="#D95319" stroke-width="1.35"/>
<circle cx="620.55" cy="172.30" r="1.9" fill="none" stroke="#D95319" stroke-width="1.35"/>
<circle cx="625.25" cy="170.60" r="1.9" fill="none" stroke="#D95319" stroke-width="1.35"/>
<circle cx="629.55" cy="169.00" r="1.9" fill="none" stroke="#D95319" stroke-width="1.35"/>
<circle cx="634.25" cy="167.30" r="1.9" fill="none" stroke="#D95319" stroke-width="1.35"/>
<circle cx="638.95" cy="165.70" r="1.9" fill="none" stroke="#D95319" stroke-width="1.35"/>
<circle cx="643.35" cy="164.00" r="1.9" fill="none" stroke="#D95319" stroke-width="1.35"/>
<circle cx="647.85" cy="162.30" r="1.9" fill="none" stroke="#D95319" stroke-width="1.35"/>
<circle cx="652.55" cy="160.60" r="1.9" fill="none" stroke="#D95319" stroke-width="1.35"/>
<circle cx="656.95" cy="158.90" r="1.9" fill="none" stroke="#D95319" stroke-width="1.35"/>
<circle cx="661.65" cy="157.30" r="1.9" fill="none" stroke="#D95319" stroke-width="1.35"/>
<circle cx="665.95" cy="155.60" r="1.9" fill="none" stroke="#D95319" stroke-width="1.35"/>
<circle cx="670.65" cy="153.90" r="1.9" fill="none" stroke="#D95319" stroke-width="1.35"/>
<circle cx="675.25" cy="152.00" r="1.9" fill="none" stroke="#D95319" stroke-width="1.35"/>
<circle cx="679.55" cy="150.40" r="1.9" fill="none" stroke="#D95319" stroke-width="1.35"/>
<line x1="483.8" y1="141.3" x2="682.9" y2="141.3" stroke="#cbcbcb" stroke-width="1"/>
<line x1="483.8" y1="234.2" x2="682.9" y2="234.2" stroke="#ececec" stroke-width="1"/>
<line x1="484.3" y1="141.3" x2="484.3" y2="234.2" stroke="#dedede" stroke-width="1"/>
<line x1="682.4" y1="141.3" x2="682.4" y2="234.2" stroke="#bcbcbc" stroke-width="1"/>
<line x1="484.51" y1="234.2" x2="484.51" y2="232.2" stroke="#d4d4d4" stroke-width="0.8"/>
<line x1="484.51" y1="141.3" x2="484.51" y2="143.3" stroke="#d4d4d4" stroke-width="0.8"/>
<text x="484.51" y="244.10" class="tk" text-anchor="middle">1.1</text>
<line x1="514.04" y1="234.2" x2="514.04" y2="232.2" stroke="#d4d4d4" stroke-width="0.8"/>
<line x1="514.04" y1="141.3" x2="514.04" y2="143.3" stroke="#d4d4d4" stroke-width="0.8"/>
<text x="514.04" y="244.10" class="tk" text-anchor="middle">1.2</text>
<line x1="543.58" y1="234.2" x2="543.58" y2="232.2" stroke="#d4d4d4" stroke-width="0.8"/>
<line x1="543.58" y1="141.3" x2="543.58" y2="143.3" stroke="#d4d4d4" stroke-width="0.8"/>
<text x="543.58" y="244.10" class="tk" text-anchor="middle">1.3</text>
<line x1="573.12" y1="234.2" x2="573.12" y2="232.2" stroke="#d4d4d4" stroke-width="0.8"/>
<line x1="573.12" y1="141.3" x2="573.12" y2="143.3" stroke="#d4d4d4" stroke-width="0.8"/>
<text x="573.12" y="244.10" class="tk" text-anchor="middle">1.4</text>
<line x1="602.65" y1="234.2" x2="602.65" y2="232.2" stroke="#d4d4d4" stroke-width="0.8"/>
<line x1="602.65" y1="141.3" x2="602.65" y2="143.3" stroke="#d4d4d4" stroke-width="0.8"/>
<text x="602.65" y="244.10" class="tk" text-anchor="middle">1.5</text>
<line x1="632.19" y1="234.2" x2="632.19" y2="232.2" stroke="#d4d4d4" stroke-width="0.8"/>
<line x1="632.19" y1="141.3" x2="632.19" y2="143.3" stroke="#d4d4d4" stroke-width="0.8"/>
<text x="632.19" y="244.10" class="tk" text-anchor="middle">1.6</text>
<line x1="661.72" y1="234.2" x2="661.72" y2="232.2" stroke="#d4d4d4" stroke-width="0.8"/>
<line x1="661.72" y1="141.3" x2="661.72" y2="143.3" stroke="#d4d4d4" stroke-width="0.8"/>
<text x="661.72" y="244.10" class="tk" text-anchor="middle">1.7</text>
<line x1="484.3" y1="234.20" x2="486.3" y2="234.20" stroke="#d4d4d4" stroke-width="0.8"/>
<line x1="682.4" y1="234.20" x2="680.4" y2="234.20" stroke="#d4d4d4" stroke-width="0.8"/>
<text x="482.10" y="237.70" class="tk" text-anchor="end">1</text>
<line x1="484.3" y1="203.23" x2="486.3" y2="203.23" stroke="#d4d4d4" stroke-width="0.8"/>
<line x1="682.4" y1="203.23" x2="680.4" y2="203.23" stroke="#d4d4d4" stroke-width="0.8"/>
<text x="482.10" y="206.73" class="tk" text-anchor="end">1.5</text>
<line x1="484.3" y1="172.27" x2="486.3" y2="172.27" stroke="#d4d4d4" stroke-width="0.8"/>
<line x1="682.4" y1="172.27" x2="680.4" y2="172.27" stroke="#d4d4d4" stroke-width="0.8"/>
<text x="482.10" y="175.77" class="tk" text-anchor="end">2</text>
<line x1="484.3" y1="141.30" x2="486.3" y2="141.30" stroke="#d4d4d4" stroke-width="0.8"/>
<line x1="682.4" y1="141.30" x2="680.4" y2="141.30" stroke="#d4d4d4" stroke-width="0.8"/>
<text x="482.10" y="144.80" class="tk" text-anchor="end">2.5</text>
<text x="583.35" y="254.10" class="lb" text-anchor="middle">Refractive Index</text>
<text transform="translate(469.90,187.75) rotate(-90)" class="lb" text-anchor="middle">Wavelength(<tspan font-style="italic" font-weight="normal" stroke-width="0.1">μ</tspan>m)</text>
<text x="485.80" y="138.80" class="pl">(f)</text>
<rect x="486.30" y="144.20" width="16.20" height="11.60" fill="#fff"/>
<line x1="485.90" y1="144.20" x2="502.90" y2="144.20" stroke="#cdcdcd" stroke-width="0.8"/>
<line x1="485.90" y1="155.80" x2="502.90" y2="155.80" stroke="#eeeeee" stroke-width="0.8"/>
<line x1="486.30" y1="144.20" x2="486.30" y2="155.80" stroke="#b8b8b8" stroke-width="0.8"/>
<line x1="502.50" y1="144.20" x2="502.50" y2="155.80" stroke="#cdcdcd" stroke-width="0.8"/>
<line x1="487.00" y1="150.30" x2="493.50" y2="150.30" stroke="#0072BD" stroke-width="1.5"/>
<text x="494.30" y="151.15" class="lg" textLength="4.2" lengthAdjust="spacingAndGlyphs">E</text>
<text x="499.00" y="155.00" class="ls">6</text>
<clipPath id="cg"><rect x="21.5" y="272.3" width="198.1" height="92.69999999999999"/></clipPath>
<path d="M21.55,359.10 C24.92,358.07 34.65,355.13 41.75,352.90 C48.85,350.67 56.72,348.13 64.15,345.70 C71.58,343.27 78.90,340.78 86.35,338.30 C93.80,335.82 102.42,333.02 108.85,330.80 C115.28,328.58 119.12,327.43 124.95,325.00 C130.78,322.57 137.78,319.17 143.85,316.20 C149.92,313.23 155.53,310.17 161.35,307.20 C167.17,304.23 172.82,301.37 178.75,298.40 C184.68,295.43 192.02,291.82 196.95,289.40 C201.88,286.98 205.77,285.08 208.35,283.90 C210.93,282.72 211.12,282.87 212.45,282.30 C213.78,281.73 215.12,281.32 216.35,280.50 C217.58,279.68 219.27,277.92 219.85,277.40" fill="none" stroke="#0072BD" stroke-width="1.4" stroke-linejoin="round" clip-path="url(#cg)"/>
<circle cx="23.25" cy="358.30" r="1.9" fill="none" stroke="#D95319" stroke-width="1.35"/>
<circle cx="28.05" cy="357.00" r="1.9" fill="none" stroke="#D95319" stroke-width="1.35"/>
<circle cx="32.55" cy="355.50" r="1.9" fill="none" stroke="#D95319" stroke-width="1.35"/>
<circle cx="37.25" cy="354.10" r="1.9" fill="none" stroke="#D95319" stroke-width="1.35"/>
<circle cx="41.75" cy="352.80" r="1.9" fill="none" stroke="#D95319" stroke-width="1.35"/>
<circle cx="46.25" cy="351.40" r="1.9" fill="none" stroke="#D95319" stroke-width="1.35"/>
<circle cx="50.85" cy="349.90" r="1.9" fill="none" stroke="#D95319" stroke-width="1.35"/>
<circle cx="55.35" cy="348.60" r="1.9" fill="none" stroke="#D95319" stroke-width="1.35"/>
<circle cx="59.85" cy="347.20" r="1.9" fill="none" stroke="#D95319" stroke-width="1.35"/>
<circle cx="64.15" cy="345.60" r="1.9" fill="none" stroke="#D95319" stroke-width="1.35"/>
<circle cx="68.65" cy="344.10" r="1.9" fill="none" stroke="#D95319" stroke-width="1.35"/>
<circle cx="73.05" cy="342.50" r="1.9" fill="none" stroke="#D95319" stroke-width="1.35"/>
<circle cx="77.55" cy="341.10" r="1.9" fill="none" stroke="#D95319" stroke-width="1.35"/>
<circle cx="81.85" cy="339.50" r="1.9" fill="none" stroke="#D95319" stroke-width="1.35"/>
<circle cx="86.35" cy="338.20" r="1.9" fill="none" stroke="#D95319" stroke-width="1.35"/>
<circle cx="90.65" cy="336.80" r="1.9" fill="none" stroke="#D95319" stroke-width="1.35"/>
<circle cx="95.15" cy="335.30" r="1.9" fill="none" stroke="#D95319" stroke-width="1.35"/>
<circle cx="99.85" cy="333.90" r="1.9" fill="none" stroke="#D95319" stroke-width="1.35"/>
<circle cx="104.35" cy="332.30" r="1.9" fill="none" stroke="#D95319" stroke-width="1.35"/>
<circle cx="108.85" cy="330.70" r="1.9" fill="none" stroke="#D95319" stroke-width="1.35"/>
<circle cx="113.15" cy="329.40" r="1.9" fill="none" stroke="#D95319" stroke-width="1.35"/>
<circle cx="117.45" cy="327.90" r="1.9" fill="none" stroke="#D95319" stroke-width="1.35"/>
<circle cx="120.95" cy="326.70" r="1.9" fill="none" stroke="#D95319" stroke-width="1.35"/>
<circle cx="124.95" cy="324.90" r="1.9" fill="none" stroke="#D95319" stroke-width="1.35"/>
<circle cx="128.95" cy="323.10" r="1.9" fill="none" stroke="#D95319" stroke-width="1.35"/>
<circle cx="132.75" cy="321.30" r="1.9" fill="none" stroke="#D95319" stroke-width="1.35"/>
<circle cx="136.45" cy="319.60" r="1.9" fill="none" stroke="#D95319" stroke-width="1.35"/>
<circle cx="140.05" cy="317.90" r="1.9" fill="none" stroke="#D95319" stroke-width="1.35"/>
<circle cx="143.85" cy="316.10" r="1.9" fill="none" stroke="#D95319" stroke-width="1.35"/>
<circle cx="147.45" cy="314.30" r="1.9" fill="none" stroke="#D95319" stroke-width="1.35"/>
<circle cx="150.75" cy="312.60" r="1.9" fill="none" stroke="#D95319" stroke-width="1.35"/>
<circle cx="154.25" cy="310.80" r="1.9" fill="none" stroke="#D95319" stroke-width="1.35"/>
<circle cx="157.75" cy="309.00" r="1.9" fill="none" stroke="#D95319" stroke-width="1.35"/>
<circle cx="161.35" cy="307.10" r="1.9" fill="none" stroke="#D95319" stroke-width="1.35"/>
<circle cx="164.95" cy="305.30" r="1.9" fill="none" stroke="#D95319" stroke-width="1.35"/>
<circle cx="168.35" cy="303.50" r="1.9" fill="none" stroke="#D95319" stroke-width="1.35"/>
<circle cx="171.95" cy="301.70" r="1.9" fill="none" stroke="#D95319" stroke-width="1.35"/>
<circle cx="175.15" cy="300.10" r="1.9" fill="none" stroke="#D95319" stroke-width="1.35"/>
<circle cx="178.75" cy="298.40" r="1.9" fill="none" stroke="#D95319" stroke-width="1.35"/>
<circle cx="182.25" cy="296.50" r="1.9" fill="none" stroke="#D95319" stroke-width="1.35"/>
<circle cx="185.85" cy="294.80" r="1.9" fill="none" stroke="#D95319" stroke-width="1.35"/>
<circle cx="189.35" cy="293.00" r="1.9" fill="none" stroke="#D95319" stroke-width="1.35"/>
<circle cx="193.15" cy="291.20" r="1.9" fill="none" stroke="#D95319" stroke-width="1.35"/>
<circle cx="196.95" cy="289.40" r="1.9" fill="none" stroke="#D95319" stroke-width="1.35"/>
<circle cx="200.45" cy="287.50" r="1.9" fill="none" stroke="#D95319" stroke-width="1.35"/>
<circle cx="204.55" cy="285.90" r="1.9" fill="none" stroke="#D95319" stroke-width="1.35"/>
<circle cx="208.35" cy="284.10" r="1.9" fill="none" stroke="#D95319" stroke-width="1.35"/>
<circle cx="212.45" cy="282.40" r="1.9" fill="none" stroke="#D95319" stroke-width="1.35"/>
<circle cx="216.35" cy="280.80" r="1.9" fill="none" stroke="#D95319" stroke-width="1.35"/>
<line x1="21.0" y1="272.3" x2="220.1" y2="272.3" stroke="#bcbcbc" stroke-width="1"/>
<line x1="21.0" y1="365.0" x2="220.1" y2="365.0" stroke="#ececec" stroke-width="1"/>
<line x1="21.5" y1="272.3" x2="21.5" y2="365.0" stroke="#cbcbcb" stroke-width="1"/>
<line x1="219.6" y1="272.3" x2="219.6" y2="365.0" stroke="#cbcbcb" stroke-width="1"/>
<line x1="31.60" y1="365.0" x2="31.60" y2="363.0" stroke="#d4d4d4" stroke-width="0.8"/>
<line x1="31.60" y1="272.3" x2="31.60" y2="274.3" stroke="#d4d4d4" stroke-width="0.8"/>
<text x="31.60" y="374.90" class="tk" text-anchor="middle">1.3</text>
<line x1="56.71" y1="365.0" x2="56.71" y2="363.0" stroke="#d4d4d4" stroke-width="0.8"/>
<line x1="56.71" y1="272.3" x2="56.71" y2="274.3" stroke="#d4d4d4" stroke-width="0.8"/>
<text x="56.71" y="374.90" class="tk" text-anchor="middle">1.4</text>
<line x1="81.82" y1="365.0" x2="81.82" y2="363.0" stroke="#d4d4d4" stroke-width="0.8"/>
<line x1="81.82" y1="272.3" x2="81.82" y2="274.3" stroke="#d4d4d4" stroke-width="0.8"/>
<text x="81.82" y="374.90" class="tk" text-anchor="middle">1.5</text>
<line x1="106.94" y1="365.0" x2="106.94" y2="363.0" stroke="#d4d4d4" stroke-width="0.8"/>
<line x1="106.94" y1="272.3" x2="106.94" y2="274.3" stroke="#d4d4d4" stroke-width="0.8"/>
<text x="106.94" y="374.90" class="tk" text-anchor="middle">1.6</text>
<line x1="132.05" y1="365.0" x2="132.05" y2="363.0" stroke="#d4d4d4" stroke-width="0.8"/>
<line x1="132.05" y1="272.3" x2="132.05" y2="274.3" stroke="#d4d4d4" stroke-width="0.8"/>
<text x="132.05" y="374.90" class="tk" text-anchor="middle">1.7</text>
<line x1="157.17" y1="365.0" x2="157.17" y2="363.0" stroke="#d4d4d4" stroke-width="0.8"/>
<line x1="157.17" y1="272.3" x2="157.17" y2="274.3" stroke="#d4d4d4" stroke-width="0.8"/>
<text x="157.17" y="374.90" class="tk" text-anchor="middle">1.8</text>
<line x1="182.28" y1="365.0" x2="182.28" y2="363.0" stroke="#d4d4d4" stroke-width="0.8"/>
<line x1="182.28" y1="272.3" x2="182.28" y2="274.3" stroke="#d4d4d4" stroke-width="0.8"/>
<text x="182.28" y="374.90" class="tk" text-anchor="middle">1.9</text>
<line x1="207.39" y1="365.0" x2="207.39" y2="363.0" stroke="#d4d4d4" stroke-width="0.8"/>
<line x1="207.39" y1="272.3" x2="207.39" y2="274.3" stroke="#d4d4d4" stroke-width="0.8"/>
<text x="207.39" y="374.90" class="tk" text-anchor="middle">2</text>
<line x1="21.5" y1="365.00" x2="23.5" y2="365.00" stroke="#d4d4d4" stroke-width="0.8"/>
<line x1="219.6" y1="365.00" x2="217.6" y2="365.00" stroke="#d4d4d4" stroke-width="0.8"/>
<text x="19.30" y="367.90" class="tk" text-anchor="end">1</text>
<line x1="21.5" y1="334.10" x2="23.5" y2="334.10" stroke="#d4d4d4" stroke-width="0.8"/>
<line x1="219.6" y1="334.10" x2="217.6" y2="334.10" stroke="#d4d4d4" stroke-width="0.8"/>
<text x="19.30" y="337.00" class="tk" text-anchor="end">1.5</text>
<line x1="21.5" y1="303.20" x2="23.5" y2="303.20" stroke="#d4d4d4" stroke-width="0.8"/>
<line x1="219.6" y1="303.20" x2="217.6" y2="303.20" stroke="#d4d4d4" stroke-width="0.8"/>
<text x="19.30" y="306.10" class="tk" text-anchor="end">2</text>
<line x1="21.5" y1="272.30" x2="23.5" y2="272.30" stroke="#d4d4d4" stroke-width="0.8"/>
<line x1="219.6" y1="272.30" x2="217.6" y2="272.30" stroke="#d4d4d4" stroke-width="0.8"/>
<text x="19.30" y="275.20" class="tk" text-anchor="end">2.5</text>
<text x="120.55" y="384.90" class="lb" text-anchor="middle">Refractive Index</text>
<text transform="translate(7.10,318.65) rotate(-90)" class="lb" text-anchor="middle">Wavelength(<tspan font-style="italic" font-weight="normal" stroke-width="0.1">μ</tspan>m)</text>
<text x="21.00" y="268.40" class="pl">(g)</text>
<rect x="24.10" y="274.60" width="16.40" height="12.00" fill="#fff"/>
<line x1="23.70" y1="274.60" x2="40.90" y2="274.60" stroke="#b8b8b8" stroke-width="0.8"/>
<line x1="23.70" y1="286.60" x2="40.90" y2="286.60" stroke="#e2e2e2" stroke-width="0.8"/>
<line x1="24.10" y1="274.60" x2="24.10" y2="286.60" stroke="#e2e2e2" stroke-width="0.8"/>
<line x1="40.50" y1="274.60" x2="40.50" y2="286.60" stroke="#cdcdcd" stroke-width="0.8"/>
<line x1="25.00" y1="280.80" x2="31.50" y2="280.80" stroke="#0072BD" stroke-width="1.5"/>
<text x="32.30" y="281.65" class="lg" textLength="4.2" lengthAdjust="spacingAndGlyphs">E</text>
<text x="37.00" y="285.50" class="ls">7</text>
<clipPath id="ch"><rect x="251.9" y="272.2" width="198.1" height="92.80000000000001"/></clipPath>
<path d="M251.90,344.65 C252.55,344.45 254.32,344.15 255.80,343.45 C257.28,342.75 259.32,341.15 260.80,340.45 C262.28,339.75 262.75,339.78 264.70,339.25 C266.65,338.72 269.98,337.93 272.50,337.25 C275.02,336.57 277.43,335.90 279.80,335.15 C282.17,334.40 284.55,333.58 286.70,332.75 C288.85,331.92 290.68,331.02 292.70,330.15 C294.72,329.28 296.77,328.43 298.80,327.55 C300.83,326.67 302.90,325.72 304.90,324.85 C306.90,323.98 308.83,323.20 310.80,322.35 C312.77,321.50 314.67,320.60 316.70,319.75 C318.73,318.90 320.83,318.07 323.00,317.25 C325.17,316.43 327.37,315.63 329.70,314.85 C332.03,314.07 334.60,313.30 337.00,312.55 C339.40,311.80 341.70,311.08 344.10,310.35 C346.50,309.62 349.00,308.90 351.40,308.15 C353.80,307.40 356.07,306.58 358.50,305.85 C360.93,305.12 363.53,304.47 366.00,303.75 C368.47,303.03 370.80,302.25 373.30,301.55 C375.80,300.85 378.43,300.22 381.00,299.55 C383.57,298.88 386.08,298.22 388.70,297.55 C391.32,296.88 394.00,296.20 396.70,295.55 C399.40,294.90 402.45,294.20 404.90,293.65 C407.35,293.10 409.29,292.72 411.40,292.25 C413.51,291.78 415.27,291.35 417.55,290.85 C419.83,290.35 422.69,289.82 425.10,289.25 C427.51,288.68 429.68,288.05 432.00,287.45 C434.32,286.85 436.87,286.27 439.00,285.65 C441.13,285.03 443.37,284.18 444.80,283.75 C446.23,283.32 446.73,283.32 447.60,283.05 C448.47,282.78 449.60,282.30 450.00,282.15" fill="none" stroke="#0072BD" stroke-width="1.4" stroke-linejoin="round" clip-path="url(#ch)"/>
<circle cx="252.60" cy="342.05" r="1.9" fill="none" stroke="#D95319" stroke-width="1.35"/>
<circle cx="256.70" cy="341.05" r="1.9" fill="none" stroke="#D95319" stroke-width="1.35"/>
<circle cx="260.80" cy="340.25" r="1.9" fill="none" stroke="#D95319" stroke-width="1.35"/>
<circle cx="264.70" cy="339.15" r="1.9" fill="none" stroke="#D95319" stroke-width="1.35"/>
<circle cx="268.60" cy="338.25" r="1.9" fill="none" stroke="#D95319" stroke-width="1.35"/>
<circle cx="272.50" cy="337.15" r="1.9" fill="none" stroke="#D95319" stroke-width="1.35"/>
<circle cx="276.20" cy="336.15" r="1.9" fill="none" stroke="#D95319" stroke-width="1.35"/>
<circle cx="279.80" cy="335.05" r="1.9" fill="none" stroke="#D95319" stroke-width="1.35"/>
<circle cx="283.20" cy="333.95" r="1.9" fill="none" stroke="#D95319" stroke-width="1.35"/>
<circle cx="286.70" cy="332.65" r="1.9" fill="none" stroke="#D95319" stroke-width="1.35"/>
<circle cx="289.50" cy="330.90" r="1.9" fill="none" stroke="#D95319" stroke-width="1.35"/>
<circle cx="292.70" cy="330.05" r="1.9" fill="none" stroke="#D95319" stroke-width="1.35"/>
<circle cx="295.80" cy="328.85" r="1.9" fill="none" stroke="#D95319" stroke-width="1.35"/>
<circle cx="298.80" cy="327.45" r="1.9" fill="none" stroke="#D95319" stroke-width="1.35"/>
<circle cx="301.90" cy="326.05" r="1.9" fill="none" stroke="#D95319" stroke-width="1.35"/>
<circle cx="304.90" cy="324.75" r="1.9" fill="none" stroke="#D95319" stroke-width="1.35"/>
<circle cx="307.90" cy="323.45" r="1.9" fill="none" stroke="#D95319" stroke-width="1.35"/>
<circle cx="310.80" cy="322.25" r="1.9" fill="none" stroke="#D95319" stroke-width="1.35"/>
<circle cx="313.70" cy="320.95" r="1.9" fill="none" stroke="#D95319" stroke-width="1.35"/>
<circle cx="316.70" cy="319.65" r="1.9" fill="none" stroke="#D95319" stroke-width="1.35"/>
<circle cx="319.80" cy="318.35" r="1.9" fill="none" stroke="#D95319" stroke-width="1.35"/>
<circle cx="323.00" cy="317.15" r="1.9" fill="none" stroke="#D95319" stroke-width="1.35"/>
<circle cx="326.20" cy="315.95" r="1.9" fill="none" stroke="#D95319" stroke-width="1.35"/>
<circle cx="329.70" cy="314.75" r="1.9" fill="none" stroke="#D95319" stroke-width="1.35"/>
<circle cx="333.30" cy="313.65" r="1.9" fill="none" stroke="#D95319" stroke-width="1.35"/>
<circle cx="337.00" cy="312.45" r="1.9" fill="none" stroke="#D95319" stroke-width="1.35"/>
<circle cx="340.50" cy="311.45" r="1.9" fill="none" stroke="#D95319" stroke-width="1.35"/>
<circle cx="344.10" cy="310.25" r="1.9" fill="none" stroke="#D95319" stroke-width="1.35"/>
<circle cx="347.80" cy="309.05" r="1.9" fill="none" stroke="#D95319" stroke-width="1.35"/>
<circle cx="351.40" cy="308.05" r="1.9" fill="none" stroke="#D95319" stroke-width="1.35"/>
<circle cx="354.90" cy="306.95" r="1.9" fill="none" stroke="#D95319" stroke-width="1.35"/>
<circle cx="358.50" cy="305.75" r="1.9" fill="none" stroke="#D95319" stroke-width="1.35"/>
<circle cx="362.20" cy="304.70" r="1.9" fill="none" stroke="#D95319" stroke-width="1.35"/>
<circle cx="366.00" cy="303.65" r="1.9" fill="none" stroke="#D95319" stroke-width="1.35"/>
<circle cx="369.60" cy="302.55" r="1.9" fill="none" stroke="#D95319" stroke-width="1.35"/>
<circle cx="373.30" cy="301.45" r="1.9" fill="none" stroke="#D95319" stroke-width="1.35"/>
<circle cx="377.10" cy="300.55" r="1.9" fill="none" stroke="#D95319" stroke-width="1.35"/>
<circle cx="381.00" cy="299.45" r="1.9" fill="none" stroke="#D95319" stroke-width="1.35"/>
<circle cx="384.85" cy="298.45" r="1.9" fill="none" stroke="#D95319" stroke-width="1.35"/>
<circle cx="388.70" cy="297.45" r="1.9" fill="none" stroke="#D95319" stroke-width="1.35"/>
<circle cx="392.80" cy="296.45" r="1.9" fill="none" stroke="#D95319" stroke-width="1.35"/>
<circle cx="396.70" cy="295.45" r="1.9" fill="none" stroke="#D95319" stroke-width="1.35"/>
<circle cx="400.70" cy="294.35" r="1.9" fill="none" stroke="#D95319" stroke-width="1.35"/>
<circle cx="404.90" cy="293.55" r="1.9" fill="none" stroke="#D95319" stroke-width="1.35"/>
<circle cx="408.00" cy="292.75" r="1.9" fill="none" stroke="#D95319" stroke-width="1.35"/>
<circle cx="411.40" cy="292.15" r="1.9" fill="none" stroke="#D95319" stroke-width="1.35"/>
<circle cx="414.45" cy="291.35" r="1.9" fill="none" stroke="#D95319" stroke-width="1.35"/>
<circle cx="417.55" cy="290.75" r="1.9" fill="none" stroke="#D95319" stroke-width="1.35"/>
<circle cx="421.10" cy="289.95" r="1.9" fill="none" stroke="#D95319" stroke-width="1.35"/>
<circle cx="425.10" cy="289.15" r="1.9" fill="none" stroke="#D95319" stroke-width="1.35"/>
<circle cx="428.50" cy="288.65" r="1.9" fill="none" stroke="#D95319" stroke-width="1.35"/>
<circle cx="432.00" cy="287.35" r="1.9" fill="none" stroke="#D95319" stroke-width="1.35"/>
<circle cx="435.50" cy="286.55" r="1.9" fill="none" stroke="#D95319" stroke-width="1.35"/>
<circle cx="439.00" cy="285.55" r="1.9" fill="none" stroke="#D95319" stroke-width="1.35"/>
<circle cx="442.00" cy="284.75" r="1.9" fill="none" stroke="#D95319" stroke-width="1.35"/>
<circle cx="444.80" cy="283.35" r="1.9" fill="none" stroke="#D95319" stroke-width="1.35"/>
<circle cx="447.60" cy="282.55" r="1.9" fill="none" stroke="#D95319" stroke-width="1.35"/>
<circle cx="450.30" cy="281.15" r="1.9" fill="none" stroke="#D95319" stroke-width="1.35"/>
<line x1="251.4" y1="272.2" x2="450.5" y2="272.2" stroke="#bcbcbc" stroke-width="1"/>
<line x1="251.4" y1="365.0" x2="450.5" y2="365.0" stroke="#ececec" stroke-width="1"/>
<line x1="251.9" y1="272.2" x2="251.9" y2="365.0" stroke="#ececec" stroke-width="1"/>
<line x1="450.0" y1="272.2" x2="450.0" y2="365.0" stroke="#ececec" stroke-width="1"/>
<line x1="264.47" y1="365.0" x2="264.47" y2="363.0" stroke="#d4d4d4" stroke-width="0.8"/>
<line x1="264.47" y1="272.2" x2="264.47" y2="274.2" stroke="#d4d4d4" stroke-width="0.8"/>
<text x="264.47" y="374.90" class="tk" text-anchor="middle">1.6</text>
<line x1="285.04" y1="365.0" x2="285.04" y2="363.0" stroke="#d4d4d4" stroke-width="0.8"/>
<line x1="285.04" y1="272.2" x2="285.04" y2="274.2" stroke="#d4d4d4" stroke-width="0.8"/>
<text x="285.04" y="374.90" class="tk" text-anchor="middle">1.7</text>
<line x1="305.62" y1="365.0" x2="305.62" y2="363.0" stroke="#d4d4d4" stroke-width="0.8"/>
<line x1="305.62" y1="272.2" x2="305.62" y2="274.2" stroke="#d4d4d4" stroke-width="0.8"/>
<text x="305.62" y="374.90" class="tk" text-anchor="middle">1.8</text>
<line x1="326.19" y1="365.0" x2="326.19" y2="363.0" stroke="#d4d4d4" stroke-width="0.8"/>
<line x1="326.19" y1="272.2" x2="326.19" y2="274.2" stroke="#d4d4d4" stroke-width="0.8"/>
<text x="326.19" y="374.90" class="tk" text-anchor="middle">1.9</text>
<line x1="346.76" y1="365.0" x2="346.76" y2="363.0" stroke="#d4d4d4" stroke-width="0.8"/>
<line x1="346.76" y1="272.2" x2="346.76" y2="274.2" stroke="#d4d4d4" stroke-width="0.8"/>
<text x="346.76" y="374.90" class="tk" text-anchor="middle">2</text>
<line x1="367.34" y1="365.0" x2="367.34" y2="363.0" stroke="#d4d4d4" stroke-width="0.8"/>
<line x1="367.34" y1="272.2" x2="367.34" y2="274.2" stroke="#d4d4d4" stroke-width="0.8"/>
<text x="367.34" y="374.90" class="tk" text-anchor="middle">2.1</text>
<line x1="387.91" y1="365.0" x2="387.91" y2="363.0" stroke="#d4d4d4" stroke-width="0.8"/>
<line x1="387.91" y1="272.2" x2="387.91" y2="274.2" stroke="#d4d4d4" stroke-width="0.8"/>
<text x="387.91" y="374.90" class="tk" text-anchor="middle">2.2</text>
<line x1="408.48" y1="365.0" x2="408.48" y2="363.0" stroke="#d4d4d4" stroke-width="0.8"/>
<line x1="408.48" y1="272.2" x2="408.48" y2="274.2" stroke="#d4d4d4" stroke-width="0.8"/>
<text x="408.48" y="374.90" class="tk" text-anchor="middle">2.3</text>
<line x1="429.06" y1="365.0" x2="429.06" y2="363.0" stroke="#d4d4d4" stroke-width="0.8"/>
<line x1="429.06" y1="272.2" x2="429.06" y2="274.2" stroke="#d4d4d4" stroke-width="0.8"/>
<text x="429.06" y="374.90" class="tk" text-anchor="middle">2.4</text>
<line x1="251.9" y1="365.00" x2="253.9" y2="365.00" stroke="#d4d4d4" stroke-width="0.8"/>
<line x1="450.0" y1="365.00" x2="448.0" y2="365.00" stroke="#d4d4d4" stroke-width="0.8"/>
<text x="249.70" y="367.90" class="tk" text-anchor="end">0.5</text>
<line x1="251.9" y1="341.80" x2="253.9" y2="341.80" stroke="#d4d4d4" stroke-width="0.8"/>
<line x1="450.0" y1="341.80" x2="448.0" y2="341.80" stroke="#d4d4d4" stroke-width="0.8"/>
<text x="249.70" y="344.70" class="tk" text-anchor="end">1</text>
<line x1="251.9" y1="318.60" x2="253.9" y2="318.60" stroke="#d4d4d4" stroke-width="0.8"/>
<line x1="450.0" y1="318.60" x2="448.0" y2="318.60" stroke="#d4d4d4" stroke-width="0.8"/>
<text x="249.70" y="321.50" class="tk" text-anchor="end">1.5</text>
<line x1="251.9" y1="295.40" x2="253.9" y2="295.40" stroke="#d4d4d4" stroke-width="0.8"/>
<line x1="450.0" y1="295.40" x2="448.0" y2="295.40" stroke="#d4d4d4" stroke-width="0.8"/>
<text x="249.70" y="298.30" class="tk" text-anchor="end">2</text>
<line x1="251.9" y1="272.20" x2="253.9" y2="272.20" stroke="#d4d4d4" stroke-width="0.8"/>
<line x1="450.0" y1="272.20" x2="448.0" y2="272.20" stroke="#d4d4d4" stroke-width="0.8"/>
<text x="249.70" y="275.10" class="tk" text-anchor="end">2.5</text>
<text x="350.95" y="384.90" class="lb" text-anchor="middle">Refractive Index</text>
<text transform="translate(237.50,318.60) rotate(-90)" class="lb" text-anchor="middle">Wavelength(<tspan font-style="italic" font-weight="normal" stroke-width="0.1">μ</tspan>m)</text>
<text x="251.50" y="268.40" class="pl">(h)</text>
<rect x="253.40" y="274.70" width="16.30" height="11.90" fill="#fff"/>
<line x1="253.00" y1="274.70" x2="270.10" y2="274.70" stroke="#e2e2e2" stroke-width="0.8"/>
<line x1="253.00" y1="286.60" x2="270.10" y2="286.60" stroke="#e2e2e2" stroke-width="0.8"/>
<line x1="253.40" y1="274.70" x2="253.40" y2="286.60" stroke="#e2e2e2" stroke-width="0.8"/>
<line x1="269.70" y1="274.70" x2="269.70" y2="286.60" stroke="#e2e2e2" stroke-width="0.8"/>
<line x1="254.20" y1="281.00" x2="260.70" y2="281.00" stroke="#0072BD" stroke-width="1.5"/>
<text x="261.50" y="281.85" class="lg" textLength="4.2" lengthAdjust="spacingAndGlyphs">E</text>
<text x="266.20" y="285.70" class="ls">8</text>
<clipPath id="ci"><rect x="485.2" y="272.2" width="198.2" height="92.60000000000002"/></clipPath>
<path d="M484.45,361.80 C484.92,361.82 485.72,362.47 487.25,361.90 C488.78,361.33 491.53,359.57 493.65,358.40 C495.77,357.23 497.78,356.10 499.95,354.90 C502.12,353.70 504.37,352.40 506.65,351.20 C508.93,350.00 511.33,348.82 513.65,347.70 C515.97,346.58 518.25,345.52 520.55,344.50 C522.85,343.48 525.05,342.58 527.45,341.60 C529.85,340.62 532.48,339.58 534.95,338.60 C537.42,337.62 539.80,336.67 542.25,335.70 C544.70,334.73 547.20,333.73 549.65,332.80 C552.10,331.87 554.55,331.00 556.95,330.10 C559.35,329.20 561.73,328.27 564.05,327.40 C566.37,326.53 568.70,325.68 570.85,324.90 C573.00,324.12 574.18,323.67 576.95,322.70 C579.72,321.73 583.23,320.57 587.45,319.10 C591.67,317.63 597.67,315.53 602.25,313.90 C606.83,312.27 610.92,310.73 614.95,309.30 C618.98,307.87 622.30,306.73 626.45,305.30 C630.60,303.87 635.25,302.32 639.85,300.70 C644.45,299.08 649.50,297.23 654.05,295.60 C658.60,293.97 662.25,292.52 667.15,290.90 C672.05,289.28 680.73,286.73 683.45,285.90" fill="none" stroke="#0072BD" stroke-width="1.4" stroke-linejoin="round" clip-path="url(#ci)"/>
<circle cx="487.25" cy="362.20" r="1.9" fill="none" stroke="#D95319" stroke-width="1.35"/>
<circle cx="493.65" cy="358.40" r="1.9" fill="none" stroke="#D95319" stroke-width="1.35"/>
<circle cx="499.95" cy="354.90" r="1.9" fill="none" stroke="#D95319" stroke-width="1.35"/>
<circle cx="506.65" cy="351.10" r="1.9" fill="none" stroke="#D95319" stroke-width="1.35"/>
<circle cx="513.65" cy="347.70" r="1.9" fill="none" stroke="#D95319" stroke-width="1.35"/>
<circle cx="520.55" cy="344.50" r="1.9" fill="none" stroke="#D95319" stroke-width="1.35"/>
<circle cx="527.45" cy="341.60" r="1.9" fill="none" stroke="#D95319" stroke-width="1.35"/>
<circle cx="534.95" cy="338.50" r="1.9" fill="none" stroke="#D95319" stroke-width="1.35"/>
<circle cx="542.25" cy="335.90" r="1.9" fill="none" stroke="#D95319" stroke-width="1.35"/>
<circle cx="549.65" cy="332.70" r="1.9" fill="none" stroke="#D95319" stroke-width="1.35"/>
<circle cx="556.95" cy="330.10" r="1.9" fill="none" stroke="#D95319" stroke-width="1.35"/>
<circle cx="564.05" cy="327.40" r="1.9" fill="none" stroke="#D95319" stroke-width="1.35"/>
<circle cx="570.85" cy="324.90" r="1.9" fill="none" stroke="#D95319" stroke-width="1.35"/>
<circle cx="576.95" cy="322.50" r="1.9" fill="none" stroke="#D95319" stroke-width="1.35"/>
<circle cx="582.35" cy="320.80" r="1.9" fill="none" stroke="#D95319" stroke-width="1.35"/>
<circle cx="587.45" cy="319.10" r="1.9" fill="none" stroke="#D95319" stroke-width="1.35"/>
<circle cx="594.65" cy="316.80" r="1.9" fill="none" stroke="#D95319" stroke-width="1.35"/>
<circle cx="602.25" cy="313.70" r="1.9" fill="none" stroke="#D95319" stroke-width="1.35"/>
<circle cx="609.65" cy="311.80" r="1.9" fill="none" stroke="#D95319" stroke-width="1.35"/>
<circle cx="614.95" cy="308.80" r="1.9" fill="none" stroke="#D95319" stroke-width="1.35"/>
<circle cx="621.15" cy="307.10" r="1.9" fill="none" stroke="#D95319" stroke-width="1.35"/>
<circle cx="626.45" cy="305.30" r="1.9" fill="none" stroke="#D95319" stroke-width="1.35"/>
<circle cx="632.45" cy="303.30" r="1.9" fill="none" stroke="#D95319" stroke-width="1.35"/>
<circle cx="639.85" cy="300.70" r="1.9" fill="none" stroke="#D95319" stroke-width="1.35"/>
<circle cx="647.05" cy="298.10" r="1.9" fill="none" stroke="#D95319" stroke-width="1.35"/>
<circle cx="654.05" cy="294.80" r="1.9" fill="none" stroke="#D95319" stroke-width="1.35"/>
<circle cx="660.05" cy="292.50" r="1.9" fill="none" stroke="#D95319" stroke-width="1.35"/>
<circle cx="667.15" cy="291.00" r="1.9" fill="none" stroke="#D95319" stroke-width="1.35"/>
<circle cx="672.05" cy="289.90" r="1.9" fill="none" stroke="#D95319" stroke-width="1.35"/>
<circle cx="678.15" cy="288.40" r="1.9" fill="none" stroke="#D95319" stroke-width="1.35"/>
<line x1="484.7" y1="272.2" x2="683.9" y2="272.2" stroke="#bcbcbc" stroke-width="1"/>
<line x1="484.7" y1="364.8" x2="683.9" y2="364.8" stroke="#ececec" stroke-width="1"/>
<line x1="485.2" y1="272.2" x2="485.2" y2="364.8" stroke="#cbcbcb" stroke-width="1"/>
<line x1="683.4" y1="272.2" x2="683.4" y2="364.8" stroke="#bcbcbc" stroke-width="1"/>
<line x1="488.59" y1="364.8" x2="488.59" y2="362.8" stroke="#d4d4d4" stroke-width="0.8"/>
<line x1="488.59" y1="272.2" x2="488.59" y2="274.2" stroke="#d4d4d4" stroke-width="0.8"/>
<text x="488.59" y="374.70" class="tk" text-anchor="middle">1.9</text>
<line x1="525.41" y1="364.8" x2="525.41" y2="362.8" stroke="#d4d4d4" stroke-width="0.8"/>
<line x1="525.41" y1="272.2" x2="525.41" y2="274.2" stroke="#d4d4d4" stroke-width="0.8"/>
<text x="525.41" y="374.70" class="tk" text-anchor="middle">2</text>
<line x1="562.23" y1="364.8" x2="562.23" y2="362.8" stroke="#d4d4d4" stroke-width="0.8"/>
<line x1="562.23" y1="272.2" x2="562.23" y2="274.2" stroke="#d4d4d4" stroke-width="0.8"/>
<text x="562.23" y="374.70" class="tk" text-anchor="middle">2.1</text>
<line x1="599.05" y1="364.8" x2="599.05" y2="362.8" stroke="#d4d4d4" stroke-width="0.8"/>
<line x1="599.05" y1="272.2" x2="599.05" y2="274.2" stroke="#d4d4d4" stroke-width="0.8"/>
<text x="599.05" y="374.70" class="tk" text-anchor="middle">2.2</text>
<line x1="635.87" y1="364.8" x2="635.87" y2="362.8" stroke="#d4d4d4" stroke-width="0.8"/>
<line x1="635.87" y1="272.2" x2="635.87" y2="274.2" stroke="#d4d4d4" stroke-width="0.8"/>
<text x="635.87" y="374.70" class="tk" text-anchor="middle">2.3</text>
<line x1="672.69" y1="364.8" x2="672.69" y2="362.8" stroke="#d4d4d4" stroke-width="0.8"/>
<line x1="672.69" y1="272.2" x2="672.69" y2="274.2" stroke="#d4d4d4" stroke-width="0.8"/>
<text x="672.69" y="374.70" class="tk" text-anchor="middle">2.4</text>
<line x1="485.2" y1="364.80" x2="487.2" y2="364.80" stroke="#d4d4d4" stroke-width="0.8"/>
<line x1="683.4" y1="364.80" x2="681.4" y2="364.80" stroke="#d4d4d4" stroke-width="0.8"/>
<text x="483.00" y="367.70" class="tk" text-anchor="end">1</text>
<line x1="485.2" y1="333.93" x2="487.2" y2="333.93" stroke="#d4d4d4" stroke-width="0.8"/>
<line x1="683.4" y1="333.93" x2="681.4" y2="333.93" stroke="#d4d4d4" stroke-width="0.8"/>
<text x="483.00" y="336.83" class="tk" text-anchor="end">1.2</text>
<line x1="485.2" y1="303.07" x2="487.2" y2="303.07" stroke="#d4d4d4" stroke-width="0.8"/>
<line x1="683.4" y1="303.07" x2="681.4" y2="303.07" stroke="#d4d4d4" stroke-width="0.8"/>
<text x="483.00" y="305.97" class="tk" text-anchor="end">1.4</text>
<line x1="485.2" y1="272.20" x2="487.2" y2="272.20" stroke="#d4d4d4" stroke-width="0.8"/>
<line x1="683.4" y1="272.20" x2="681.4" y2="272.20" stroke="#d4d4d4" stroke-width="0.8"/>
<text x="483.00" y="275.10" class="tk" text-anchor="end">1.6</text>
<text x="584.30" y="384.70" class="lb" text-anchor="middle">Refractive Index</text>
<text transform="translate(470.80,318.50) rotate(-90)" class="lb" text-anchor="middle">Wavelength(<tspan font-style="italic" font-weight="normal" stroke-width="0.1">μ</tspan>m)</text>
<text x="485.40" y="268.40" class="pl">(i)</text>
<rect x="487.40" y="275.20" width="16.10" height="11.90" fill="#fff"/>
<line x1="487.00" y1="275.20" x2="503.90" y2="275.20" stroke="#e2e2e2" stroke-width="0.8"/>
<line x1="487.00" y1="287.10" x2="503.90" y2="287.10" stroke="#cdcdcd" stroke-width="0.8"/>
<line x1="487.40" y1="275.20" x2="487.40" y2="287.10" stroke="#cdcdcd" stroke-width="0.8"/>
<line x1="503.50" y1="275.20" x2="503.50" y2="287.10" stroke="#cdcdcd" stroke-width="0.8"/>
<line x1="488.20" y1="281.10" x2="494.70" y2="281.10" stroke="#0072BD" stroke-width="1.5"/>
<text x="495.50" y="281.95" class="lg" textLength="4.2" lengthAdjust="spacingAndGlyphs">E</text>
<text x="500.20" y="285.80" class="ls">9</text>
<rect x="462" y="280" width="0.9" height="2" fill="#D95319" opacity="0.6"/>
</svg>
</body></html>
